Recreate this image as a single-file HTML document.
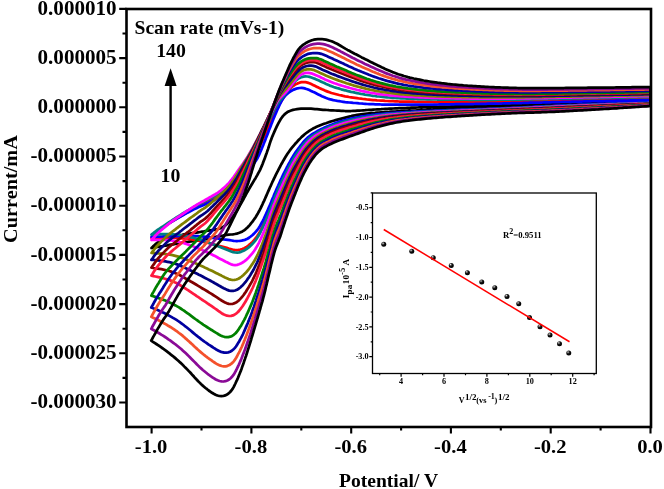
<!DOCTYPE html>
<html><head><meta charset="utf-8"><title>CV scan rate</title>
<style>
html,body{margin:0;padding:0;background:#fff;}
svg{display:block;filter:blur(0.4px);}
.t{font-family:"Liberation Serif",serif;font-weight:bold;font-size:20.6px;fill:#000;}
.s{font-family:"Liberation Serif",serif;font-weight:bold;font-size:8.2px;fill:#000;}
.c path{fill:none;stroke-width:2.75;stroke-linejoin:round;stroke-linecap:round;}
</style></head><body>
<svg width="664" height="489" viewBox="0 0 664 489">
<defs><radialGradient id="ball" cx="0.36" cy="0.32" r="0.6"><stop offset="0" stop-color="#ffffff"/><stop offset="0.22" stop-color="#777"/><stop offset="0.55" stop-color="#111"/><stop offset="1" stop-color="#000"/></radialGradient>
<clipPath id="cp"><rect x="126.5" y="9" width="524.5" height="418"/></clipPath></defs>
<rect width="664" height="489" fill="#fff"/>
<g class="c" clip-path="url(#cp)">
<path d="M650.5 101.8L648.5 101.9L646.5 101.9L644.5 102.0L642.5 102.0L640.4 102.1L638.4 102.2L636.4 102.2L634.4 102.3L632.4 102.3L630.4 102.4L628.4 102.5L626.4 102.5L624.4 102.6L622.3 102.6L620.3 102.7L618.3 102.8L616.3 102.8L614.3 102.9L612.3 102.9L610.3 103.0L608.3 103.1L606.3 103.1L604.2 103.2L602.2 103.3L600.2 103.3L598.2 103.4L596.2 103.5L594.2 103.5L592.2 103.6L590.2 103.7L588.2 103.7L586.1 103.8L584.1 103.9L582.1 104.0L580.1 104.0L578.1 104.1L576.1 104.2L574.1 104.3L572.1 104.3L570.1 104.4L568.0 104.5L566.0 104.6L564.0 104.6L562.0 104.7L560.0 104.8L558.0 104.9L556.0 105.0L554.0 105.1L552.0 105.1L550.0 105.2L547.9 105.3L545.9 105.4L543.9 105.5L541.9 105.6L539.9 105.7L537.9 105.8L535.9 105.9L533.9 106.0L531.9 106.1L529.9 106.2L527.8 106.3L525.8 106.4L523.8 106.5L521.8 106.6L519.8 106.7L517.8 106.8L515.8 106.9L513.8 107.0L511.8 107.1L509.8 107.1L507.7 107.2L505.7 107.3L503.7 107.4L501.7 107.5L499.7 107.5L497.7 107.6L495.7 107.7L493.7 107.7L491.7 107.8L489.6 107.9L487.6 107.9L485.6 108.0L483.6 108.1L481.6 108.1L479.6 108.2L477.6 108.2L475.6 108.3L473.6 108.3L471.5 108.4L469.5 108.5L467.5 108.5L465.5 108.6L463.5 108.6L461.5 108.7L459.5 108.7L457.5 108.8L455.5 108.9L453.4 108.9L451.4 109.0L449.4 109.1L447.4 109.1L445.4 109.2L443.4 109.3L441.4 109.3L439.4 109.4L437.4 109.5L435.3 109.6L433.3 109.7L431.3 109.8L429.3 109.8L427.3 109.9L425.3 110.0L423.3 110.1L421.3 110.2L419.3 110.3L417.2 110.4L415.2 110.5L413.2 110.5L411.2 110.6L409.2 110.7L407.2 110.8L405.2 110.9L403.2 111.0L401.2 111.1L399.2 111.3L397.2 111.4L395.1 111.5L393.1 111.6L391.1 111.7L389.1 111.9L387.1 112.0L385.1 112.1L383.1 112.3L381.1 112.4L379.1 112.6L377.1 112.7L375.1 112.9L373.1 113.0L371.1 113.2L369.1 113.4L367.1 113.6L365.0 113.8L363.1 114.0L361.1 114.3L359.1 114.6L357.1 114.9L355.1 115.3L353.1 115.7L351.2 116.2L349.2 116.6L347.3 117.1L345.3 117.6L343.4 118.1L341.4 118.6L339.5 119.1L337.5 119.6L335.6 120.1L333.6 120.7L331.7 121.3L329.8 121.9L327.9 122.5L326.0 123.2L324.1 123.8L322.2 124.5L320.3 125.2L318.5 126.0L316.6 126.8L314.8 127.7L313.0 128.6L311.3 129.6L309.6 130.7L307.9 131.8L306.3 133.0L304.7 134.3L303.2 135.6L301.7 136.9L300.3 138.4L298.9 139.8L297.5 141.3L296.2 142.8L294.8 144.3L293.5 145.8L292.2 147.4L291.0 148.9L289.8 150.5L288.6 152.2L287.5 153.8L286.4 155.5L285.3 157.3L284.3 159.0L283.3 160.7L282.3 162.5L281.3 164.2L280.4 166.0L279.4 167.8L278.5 169.6L277.6 171.4L276.7 173.1L275.8 174.9L274.9 176.8L274.0 178.6L273.2 180.4L272.3 182.2L271.5 184.0L270.7 185.9L269.8 187.7L269.0 189.6L268.2 191.4L267.4 193.2L266.6 195.1L265.8 196.9L265.0 198.8L264.2 200.6L263.3 202.4L262.5 204.3L261.6 206.1L260.8 207.9L259.9 209.7L258.9 211.5L258.0 213.2L256.9 215.0L255.9 216.7L254.8 218.4L253.6 220.0L252.5 221.7L251.2 223.2L249.9 224.8L248.6 226.3L247.2 227.7L245.7 229.1L244.1 230.3L242.4 231.4L240.6 232.3L238.7 233.0L236.8 233.6L234.8 234.0L232.8 234.3L230.8 234.5L228.8 234.7L226.8 234.9L224.8 235.2L222.9 235.6L220.9 235.9L218.9 236.3L216.9 236.7L215.0 237.2L213.0 237.6L211.0 238.0L209.0 238.4L207.1 238.7L205.1 239.1L203.1 239.5L201.1 239.8L199.1 240.1L197.2 240.5L195.2 240.8L193.2 241.1L191.2 241.4L189.2 241.7L187.2 242.0L185.2 242.3L183.2 242.7L181.3 243.0L179.3 243.3L177.3 243.6L175.3 244.0L173.3 244.3L171.3 244.6L169.4 244.9L167.4 245.3L165.4 245.6L163.4 246.0L161.4 246.3L159.4 246.6L157.4 247.0L155.5 247.3L153.5 247.7L151.5 248.0L151.5 248.0L152.9 246.6L154.4 245.2L155.9 243.9L157.5 242.7L159.2 241.6L160.9 240.6L162.8 239.7L164.6 239.0L166.5 238.3L168.4 237.7L170.4 237.1L172.3 236.6L174.3 236.2L176.2 235.8L178.2 235.4L180.2 235.1L182.2 234.8L184.2 234.4L186.2 234.1L188.1 233.8L190.1 233.5L192.1 233.2L194.1 232.9L196.1 232.6L198.1 232.3L200.1 232.0L202.0 231.7L204.0 231.4L206.0 231.0L208.0 230.7L210.0 230.4L212.0 230.1L214.0 229.8L215.9 229.4L217.9 229.0L219.8 228.4L221.7 227.7L223.5 226.7L225.1 225.6L226.7 224.3L228.1 222.8L229.4 221.3L230.6 219.7L231.8 218.1L233.0 216.5L234.1 214.9L235.2 213.2L236.3 211.5L237.4 209.7L238.4 208.0L239.4 206.3L240.4 204.6L241.4 202.8L242.4 201.1L243.4 199.3L244.3 197.5L245.3 195.8L246.2 194.0L247.2 192.2L248.2 190.5L249.2 188.7L250.2 187.0L251.2 185.3L252.3 183.5L253.3 181.8L254.3 180.1L255.4 178.4L256.4 176.6L257.4 174.9L258.3 173.1L259.3 171.3L260.2 169.6L261.0 167.7L261.8 165.9L262.6 164.0L263.3 162.1L264.0 160.3L264.7 158.4L265.4 156.5L266.1 154.6L266.8 152.7L267.4 150.8L268.1 148.9L268.7 147.0L269.3 145.1L269.9 143.2L270.5 141.3L271.2 139.4L271.9 137.5L272.7 135.6L273.5 133.8L274.3 131.9L275.1 130.1L275.9 128.3L276.8 126.4L277.7 124.6L278.6 122.9L279.6 121.1L280.6 119.3L281.7 117.7L282.9 116.1L284.3 114.6L285.8 113.3L287.4 112.1L289.2 111.2L291.1 110.5L293.0 109.9L295.0 109.5L297.0 109.2L299.0 108.9L301.0 108.7L303.0 108.6L305.0 108.5L307.0 108.5L309.0 108.6L311.0 108.7L313.0 108.9L315.0 109.1L317.0 109.2L319.0 109.4L321.0 109.6L323.0 109.8L325.0 109.9L327.0 110.0L329.0 110.2L331.0 110.3L333.1 110.4L335.1 110.5L337.1 110.6L339.1 110.7L341.1 110.8L343.1 110.9L345.1 111.0L347.1 111.0L349.1 111.0L351.1 111.0L353.1 110.9L355.2 110.9L357.2 110.7L359.2 110.6L361.2 110.5L363.2 110.3L365.2 110.2L367.2 110.0L369.2 109.9L371.2 109.8L373.2 109.6L375.2 109.5L377.2 109.4L379.2 109.3L381.2 109.2L383.2 109.0L385.2 108.9L387.3 108.8L389.3 108.7L391.3 108.6L393.3 108.5L395.3 108.4L397.3 108.3L399.3 108.2L401.3 108.1L403.3 108.1L405.3 108.0L407.3 107.9L409.3 107.8L411.4 107.7L413.4 107.6L415.4 107.6L417.4 107.5L419.4 107.4L421.4 107.3L423.4 107.2L425.4 107.2L427.4 107.1L429.4 107.0L431.4 107.0L433.5 106.9L435.5 106.8L437.5 106.8L439.5 106.7L441.5 106.7L443.5 106.6L445.5 106.6L447.5 106.5L449.5 106.5L451.5 106.4L453.6 106.4L455.6 106.3L457.6 106.3L459.6 106.2L461.6 106.2L463.6 106.1L465.6 106.1L467.6 106.0L469.6 106.0L471.6 106.0L473.6 105.9L475.7 105.9L477.7 105.8L479.7 105.8L481.7 105.8L483.7 105.7L485.7 105.7L487.7 105.6L489.7 105.6L491.7 105.5L493.7 105.5L495.8 105.4L497.8 105.4L499.8 105.4L501.8 105.3L503.8 105.3L505.8 105.2L507.8 105.2L509.8 105.1L511.8 105.0L513.8 105.0L515.9 104.9L517.9 104.9L519.9 104.8L521.9 104.8L523.9 104.7L525.9 104.6L527.9 104.6L529.9 104.5L531.9 104.5L533.9 104.4L536.0 104.3L538.0 104.3L540.0 104.2L542.0 104.2L544.0 104.1L546.0 104.0L548.0 104.0L550.0 103.9L552.0 103.8L554.0 103.8L556.0 103.7L558.1 103.7L560.1 103.6L562.1 103.5L564.1 103.5L566.1 103.4L568.1 103.4L570.1 103.3L572.1 103.2L574.1 103.2L576.1 103.1L578.2 103.1L580.2 103.0L582.2 102.9L584.2 102.9L586.2 102.8L588.2 102.8L590.2 102.7L592.2 102.7L594.2 102.6L596.2 102.5L598.2 102.5L600.3 102.4L602.3 102.4L604.3 102.3L606.3 102.3L608.3 102.2L610.3 102.1L612.3 102.1L614.3 102.0L616.3 102.0L618.3 101.9L620.4 101.9L622.4 101.8L624.4 101.7L626.4 101.7L628.4 101.6L630.4 101.6L632.4 101.5L634.4 101.5L636.4 101.4L638.4 101.3L640.5 101.3L642.5 101.2L644.5 101.2L646.5 101.1L648.5 101.1L650.5 101.0Z" stroke="#000000"/>
<path d="M650.5 102.8L648.5 102.9L646.5 102.9L644.5 103.0L642.5 103.0L640.5 103.1L638.5 103.2L636.5 103.2L634.4 103.3L632.4 103.4L630.4 103.4L628.4 103.5L626.4 103.5L624.4 103.6L622.4 103.7L620.4 103.7L618.4 103.8L616.4 103.9L614.4 103.9L612.4 104.0L610.4 104.1L608.4 104.1L606.3 104.2L604.3 104.3L602.3 104.3L600.3 104.4L598.3 104.5L596.3 104.6L594.3 104.6L592.3 104.7L590.3 104.8L588.3 104.8L586.3 104.9L584.3 105.0L582.3 105.1L580.3 105.1L578.3 105.2L576.3 105.3L574.2 105.4L572.2 105.4L570.2 105.5L568.2 105.6L566.2 105.7L564.2 105.8L562.2 105.9L560.2 105.9L558.2 106.0L556.2 106.1L554.2 106.2L552.2 106.3L550.2 106.4L548.2 106.5L546.2 106.6L544.2 106.7L542.1 106.8L540.1 106.9L538.1 107.0L536.1 107.1L534.1 107.2L532.1 107.3L530.1 107.4L528.1 107.5L526.1 107.6L524.1 107.7L522.1 107.8L520.1 107.9L518.1 108.0L516.1 108.0L514.1 108.1L512.1 108.2L510.1 108.3L508.1 108.4L506.1 108.5L504.0 108.6L502.0 108.7L500.0 108.8L498.0 108.8L496.0 108.9L494.0 109.0L492.0 109.1L490.0 109.1L488.0 109.2L486.0 109.3L484.0 109.4L482.0 109.4L480.0 109.5L478.0 109.6L476.0 109.6L473.9 109.7L471.9 109.8L469.9 109.8L467.9 109.9L465.9 110.0L463.9 110.0L461.9 110.1L459.9 110.2L457.9 110.2L455.9 110.3L453.9 110.4L451.9 110.5L449.9 110.5L447.9 110.6L445.9 110.7L443.8 110.8L441.8 110.8L439.8 110.9L437.8 111.0L435.8 111.1L433.8 111.2L431.8 111.3L429.8 111.4L427.8 111.5L425.8 111.6L423.8 111.7L421.8 111.8L419.8 111.9L417.8 112.0L415.8 112.1L413.8 112.2L411.8 112.3L409.8 112.4L407.8 112.6L405.7 112.7L403.7 112.8L401.7 112.9L399.7 113.1L397.7 113.2L395.7 113.4L393.7 113.5L391.7 113.7L389.7 113.8L387.7 114.0L385.7 114.2L383.7 114.4L381.7 114.6L379.7 114.8L377.7 115.1L375.8 115.3L373.8 115.6L371.8 115.9L369.8 116.1L367.8 116.4L365.8 116.8L363.8 117.1L361.9 117.4L359.9 117.8L357.9 118.2L355.9 118.6L354.0 119.0L352.0 119.5L350.1 119.9L348.1 120.4L346.2 120.9L344.2 121.5L342.3 122.0L340.4 122.6L338.5 123.2L336.6 123.8L334.7 124.5L332.8 125.3L331.0 126.0L329.1 126.8L327.3 127.6L325.4 128.4L323.6 129.2L321.8 130.1L320.0 131.0L318.3 132.0L316.5 133.0L314.8 134.0L313.1 135.1L311.5 136.3L309.9 137.5L308.4 138.8L306.9 140.2L305.5 141.7L304.2 143.2L302.9 144.7L301.7 146.3L300.5 147.9L299.3 149.5L298.2 151.2L297.0 152.8L295.9 154.5L294.8 156.2L293.7 157.9L292.7 159.6L291.7 161.3L290.7 163.1L289.8 164.9L288.9 166.7L287.9 168.4L287.0 170.2L286.1 172.0L285.2 173.8L284.3 175.6L283.4 177.4L282.6 179.2L281.7 181.0L280.9 182.9L280.1 184.7L279.2 186.5L278.4 188.4L277.6 190.2L276.8 192.0L276.0 193.9L275.3 195.7L274.5 197.6L273.7 199.5L273.0 201.3L272.3 203.2L271.5 205.1L270.8 206.9L270.1 208.8L269.3 210.7L268.6 212.6L267.9 214.4L267.1 216.3L266.3 218.1L265.5 220.0L264.7 221.8L263.9 223.6L263.0 225.5L262.2 227.3L261.3 229.1L260.4 230.9L259.4 232.6L258.4 234.3L257.3 236.0L256.1 237.7L254.9 239.2L253.6 240.8L252.2 242.2L250.7 243.6L249.2 244.9L247.7 246.2L246.0 247.3L244.2 248.2L242.3 249.0L240.4 249.5L238.5 249.9L236.4 250.1L234.4 249.9L232.5 249.5L230.5 249.0L228.6 248.5L226.7 247.9L224.7 247.4L222.8 246.9L220.8 246.4L218.9 245.9L217.0 245.4L215.0 244.8L213.1 244.3L211.2 243.8L209.2 243.2L207.3 242.7L205.3 242.2L203.4 241.8L201.4 241.3L199.5 240.9L197.5 240.5L195.5 240.1L193.5 239.8L191.6 239.5L189.6 239.2L187.6 238.9L185.6 238.7L183.6 238.5L181.6 238.3L179.6 238.1L177.6 238.0L175.6 237.9L173.6 237.8L171.6 237.7L169.6 237.6L167.6 237.6L165.5 237.6L163.5 237.6L161.5 237.6L159.5 237.7L157.5 237.7L155.5 237.8L153.5 237.9L151.5 238.0L151.5 238.0L152.9 236.5L154.3 235.1L155.7 233.7L157.2 232.4L158.8 231.1L160.4 229.8L162.0 228.6L163.6 227.4L165.2 226.2L166.8 225.0L168.4 223.8L170.1 222.7L171.8 221.6L173.5 220.5L175.2 219.5L176.9 218.4L178.6 217.4L180.4 216.4L182.1 215.3L183.8 214.3L185.5 213.2L187.2 212.2L189.0 211.2L190.7 210.2L192.5 209.2L194.2 208.2L196.0 207.3L197.8 206.4L199.6 205.5L201.4 204.6L203.3 203.8L205.1 202.9L206.9 202.0L208.6 201.1L210.4 200.1L212.2 199.2L214.0 198.2L215.7 197.3L217.5 196.2L219.2 195.2L220.8 194.0L222.5 192.9L224.1 191.7L225.7 190.4L227.2 189.1L228.7 187.8L230.2 186.4L231.6 185.0L232.9 183.5L234.3 182.0L235.6 180.5L236.9 178.9L238.2 177.4L239.5 175.8L240.8 174.3L242.0 172.8L243.3 171.2L244.6 169.6L245.9 168.1L247.1 166.5L248.3 164.9L249.6 163.3L250.8 161.7L251.9 160.1L253.1 158.4L254.1 156.7L255.2 155.0L256.2 153.2L257.1 151.5L258.0 149.7L258.9 147.9L259.8 146.0L260.6 144.2L261.5 142.4L262.3 140.6L263.1 138.7L264.0 136.9L264.8 135.1L265.6 133.2L266.4 131.4L267.2 129.6L268.1 127.7L268.9 125.9L269.7 124.0L270.5 122.2L271.3 120.3L272.1 118.5L272.9 116.7L273.7 114.8L274.6 113.0L275.5 111.2L276.4 109.4L277.4 107.6L278.4 105.9L279.4 104.2L280.5 102.5L281.5 100.8L282.6 99.1L283.6 97.3L284.7 95.6L285.8 94.0L287.0 92.3L288.2 90.7L289.5 89.2L291.0 87.8L292.5 86.5L294.1 85.3L295.8 84.2L297.6 83.4L299.5 82.7L301.5 82.2L303.5 82.1L305.5 82.2L307.5 82.6L309.4 83.3L311.2 84.1L313.0 84.9L314.8 85.8L316.6 86.7L318.4 87.6L320.3 88.4L322.1 89.3L323.9 90.1L325.8 90.9L327.6 91.6L329.5 92.3L331.4 93.0L333.4 93.5L335.3 94.0L337.3 94.5L339.2 95.0L341.2 95.4L343.2 95.9L345.1 96.3L347.1 96.6L349.1 97.0L351.1 97.3L353.1 97.6L355.0 97.9L357.0 98.2L359.0 98.5L361.0 98.7L363.0 99.0L365.0 99.2L367.0 99.5L369.0 99.7L371.0 99.9L373.0 100.1L375.0 100.2L377.0 100.4L379.0 100.5L381.0 100.6L383.0 100.7L385.1 100.9L387.1 101.0L389.1 101.1L391.1 101.2L393.1 101.2L395.1 101.3L397.1 101.4L399.1 101.5L401.1 101.5L403.1 101.6L405.2 101.6L407.2 101.6L409.2 101.7L411.2 101.7L413.2 101.7L415.2 101.8L417.2 101.8L419.2 101.8L421.2 101.9L423.3 101.9L425.3 101.9L427.3 101.9L429.3 101.9L431.3 101.9L433.3 102.0L435.3 102.0L437.3 102.0L439.3 102.0L441.4 102.0L443.4 102.0L445.4 101.9L447.4 101.9L449.4 101.9L451.4 101.9L453.4 101.9L455.4 101.9L457.4 101.9L459.5 101.9L461.5 101.9L463.5 101.9L465.5 101.9L467.5 101.9L469.5 101.9L471.5 101.9L473.5 101.9L475.5 101.8L477.6 101.8L479.6 101.8L481.6 101.8L483.6 101.8L485.6 101.8L487.6 101.7L489.6 101.7L491.6 101.7L493.6 101.7L495.7 101.7L497.7 101.6L499.7 101.6L501.7 101.6L503.7 101.5L505.7 101.5L507.7 101.5L509.7 101.4L511.7 101.4L513.8 101.3L515.8 101.3L517.8 101.3L519.8 101.2L521.8 101.2L523.8 101.1L525.8 101.1L527.8 101.1L529.8 101.0L531.9 101.0L533.9 100.9L535.9 100.9L537.9 100.8L539.9 100.8L541.9 100.8L543.9 100.7L545.9 100.7L547.9 100.6L550.0 100.6L552.0 100.5L554.0 100.5L556.0 100.4L558.0 100.4L560.0 100.3L562.0 100.3L564.0 100.2L566.0 100.2L568.1 100.2L570.1 100.1L572.1 100.1L574.1 100.0L576.1 100.0L578.1 99.9L580.1 99.9L582.1 99.9L584.1 99.8L586.1 99.8L588.2 99.7L590.2 99.7L592.2 99.6L594.2 99.6L596.2 99.6L598.2 99.5L600.2 99.5L602.2 99.4L604.2 99.4L606.3 99.4L608.3 99.3L610.3 99.3L612.3 99.2L614.3 99.2L616.3 99.2L618.3 99.1L620.3 99.1L622.3 99.0L624.4 99.0L626.4 98.9L628.4 98.9L630.4 98.9L632.4 98.8L634.4 98.8L636.4 98.7L638.4 98.7L640.4 98.7L642.5 98.6L644.5 98.6L646.5 98.5L648.5 98.5L650.5 98.5Z" stroke="#ff0000"/>
<path d="M650.5 102.6L648.5 102.7L646.5 102.7L644.5 102.8L642.5 102.8L640.4 102.9L638.4 102.9L636.4 103.0L634.4 103.1L632.4 103.1L630.4 103.2L628.4 103.2L626.4 103.3L624.3 103.4L622.3 103.4L620.3 103.5L618.3 103.5L616.3 103.6L614.3 103.7L612.3 103.7L610.3 103.8L608.3 103.9L606.2 103.9L604.2 104.0L602.2 104.1L600.2 104.1L598.2 104.2L596.2 104.3L594.2 104.3L592.2 104.4L590.2 104.5L588.1 104.5L586.1 104.6L584.1 104.7L582.1 104.7L580.1 104.8L578.1 104.9L576.1 105.0L574.1 105.0L572.1 105.1L570.0 105.2L568.0 105.3L566.0 105.4L564.0 105.4L562.0 105.5L560.0 105.6L558.0 105.7L556.0 105.8L554.0 105.9L551.9 106.0L549.9 106.0L547.9 106.1L545.9 106.2L543.9 106.3L541.9 106.4L539.9 106.5L537.9 106.6L535.9 106.7L533.9 106.8L531.8 107.0L529.8 107.1L527.8 107.2L525.8 107.3L523.8 107.4L521.8 107.5L519.8 107.6L517.8 107.7L515.8 107.8L513.8 107.9L511.7 107.9L509.7 108.0L507.7 108.1L505.7 108.2L503.7 108.3L501.7 108.4L499.7 108.5L497.7 108.5L495.7 108.6L493.6 108.7L491.6 108.8L489.6 108.8L487.6 108.9L485.6 109.0L483.6 109.0L481.6 109.1L479.6 109.2L477.6 109.2L475.5 109.3L473.5 109.4L471.5 109.4L469.5 109.5L467.5 109.5L465.5 109.6L463.5 109.7L461.5 109.7L459.5 109.8L457.4 109.9L455.4 109.9L453.4 110.0L451.4 110.1L449.4 110.1L447.4 110.2L445.4 110.3L443.4 110.4L441.4 110.4L439.3 110.5L437.3 110.6L435.3 110.7L433.3 110.8L431.3 110.9L429.3 111.0L427.3 111.0L425.3 111.1L423.3 111.2L421.2 111.3L419.2 111.4L417.2 111.5L415.2 111.6L413.2 111.7L411.2 111.8L409.2 112.0L407.2 112.1L405.2 112.2L403.2 112.3L401.2 112.4L399.1 112.6L397.1 112.7L395.1 112.8L393.1 113.0L391.1 113.1L389.1 113.3L387.1 113.4L385.1 113.6L383.1 113.8L381.1 114.0L379.1 114.2L377.1 114.4L375.1 114.7L373.1 114.9L371.1 115.2L369.1 115.4L367.1 115.7L365.1 116.0L363.1 116.3L361.1 116.6L359.2 117.0L357.2 117.4L355.2 117.8L353.2 118.2L351.3 118.6L349.3 119.1L347.4 119.6L345.4 120.1L343.5 120.6L341.5 121.2L339.6 121.7L337.7 122.4L335.8 123.0L333.9 123.7L332.0 124.5L330.2 125.2L328.3 126.0L326.5 126.8L324.6 127.6L322.8 128.4L321.0 129.3L319.2 130.2L317.4 131.1L315.7 132.1L313.9 133.1L312.2 134.2L310.6 135.4L309.0 136.6L307.4 137.9L306.0 139.3L304.6 140.7L303.2 142.2L302.0 143.8L300.7 145.4L299.5 147.0L298.3 148.6L297.1 150.2L295.9 151.9L294.8 153.5L293.7 155.2L292.7 156.9L291.6 158.7L290.7 160.4L289.7 162.2L288.7 163.9L287.8 165.7L286.8 167.5L285.9 169.3L285.0 171.1L284.1 172.9L283.2 174.7L282.3 176.5L281.5 178.3L280.6 180.1L279.8 182.0L279.0 183.8L278.2 185.6L277.3 187.5L276.5 189.3L275.7 191.2L274.9 193.0L274.1 194.9L273.4 196.7L272.6 198.6L271.8 200.4L271.1 202.3L270.3 204.2L269.5 206.0L268.7 207.9L267.9 209.7L267.1 211.6L266.3 213.4L265.5 215.2L264.6 217.1L263.8 218.9L262.9 220.7L261.9 222.5L261.0 224.2L260.0 226.0L258.9 227.7L257.8 229.3L256.5 230.9L255.2 232.4L253.8 233.9L252.3 235.2L250.7 236.5L249.1 237.7L247.4 238.7L245.6 239.6L243.7 240.2L241.7 240.7L239.7 240.9L237.7 241.0L235.7 241.0L233.7 240.8L231.7 240.5L229.7 240.2L227.7 239.9L225.7 239.6L223.7 239.4L221.7 239.1L219.7 238.8L217.7 238.5L215.8 238.3L213.8 238.0L211.8 237.7L209.8 237.4L207.8 237.2L205.8 236.9L203.8 236.7L201.8 236.5L199.8 236.3L197.8 236.2L195.8 236.1L193.7 236.0L191.7 236.0L189.7 235.9L187.7 235.9L185.7 235.9L183.7 235.9L181.7 236.0L179.7 236.0L177.6 236.0L175.6 236.1L173.6 236.1L171.6 236.2L169.6 236.2L167.6 236.3L165.6 236.4L163.6 236.4L161.6 236.5L159.5 236.6L157.5 236.7L155.5 236.8L153.5 236.9L151.5 237.0L151.5 237.0L152.9 235.6L154.4 234.2L155.9 232.8L157.4 231.5L159.0 230.3L160.6 229.1L162.2 227.9L163.9 226.8L165.5 225.6L167.2 224.5L168.9 223.4L170.6 222.4L172.3 221.3L174.0 220.3L175.8 219.3L177.5 218.4L179.3 217.4L181.0 216.4L182.8 215.4L184.5 214.4L186.3 213.4L188.0 212.4L189.8 211.5L191.6 210.6L193.4 209.6L195.2 208.8L197.0 207.9L198.8 207.1L200.7 206.3L202.5 205.5L204.4 204.7L206.2 203.8L208.0 203.0L209.8 202.1L211.6 201.2L213.4 200.3L215.2 199.4L217.0 198.4L218.7 197.4L220.4 196.4L222.1 195.3L223.8 194.1L225.4 193.0L227.0 191.8L228.6 190.5L230.1 189.2L231.6 187.8L233.0 186.4L234.4 185.0L235.8 183.6L237.2 182.1L238.6 180.6L240.0 179.2L241.4 177.7L242.7 176.3L244.1 174.8L245.5 173.3L246.9 171.9L248.2 170.4L249.5 168.9L250.8 167.3L252.1 165.8L253.4 164.2L254.6 162.6L255.7 160.9L256.8 159.2L257.8 157.5L258.7 155.7L259.5 153.9L260.3 152.0L261.1 150.2L261.9 148.3L262.6 146.5L263.4 144.6L264.1 142.7L264.9 140.9L265.6 139.0L266.3 137.1L267.1 135.3L267.8 133.4L268.5 131.5L269.2 129.6L270.0 127.8L270.7 125.9L271.4 124.0L272.2 122.1L272.9 120.3L273.6 118.4L274.4 116.6L275.2 114.7L276.0 112.9L276.8 111.0L277.6 109.2L278.5 107.4L279.3 105.5L280.2 103.7L281.1 101.9L282.0 100.2L283.1 98.5L284.3 96.9L285.6 95.3L287.1 93.9L288.6 92.6L290.2 91.5L292.0 90.5L293.8 89.6L295.7 88.9L297.6 88.3L299.6 88.0L301.6 87.9L303.6 88.2L305.5 88.7L307.4 89.3L309.3 90.1L311.1 90.9L312.9 91.8L314.7 92.6L316.5 93.5L318.3 94.4L320.1 95.3L321.9 96.2L323.8 97.0L325.6 97.8L327.5 98.5L329.4 99.1L331.4 99.6L333.3 100.1L335.3 100.5L337.3 100.9L339.2 101.2L341.2 101.5L343.2 101.8L345.2 102.1L347.2 102.3L349.2 102.5L351.2 102.7L353.2 102.9L355.2 103.0L357.2 103.2L359.2 103.4L361.2 103.5L363.2 103.7L365.2 103.8L367.2 104.0L369.2 104.1L371.2 104.2L373.2 104.2L375.3 104.3L377.3 104.4L379.3 104.4L381.3 104.5L383.3 104.5L385.3 104.5L387.3 104.6L389.3 104.6L391.3 104.6L393.3 104.7L395.3 104.7L397.4 104.7L399.4 104.7L401.4 104.7L403.4 104.7L405.4 104.7L407.4 104.7L409.4 104.7L411.4 104.7L413.4 104.7L415.4 104.7L417.5 104.6L419.5 104.6L421.5 104.6L423.5 104.6L425.5 104.6L427.5 104.6L429.5 104.6L431.5 104.5L433.5 104.5L435.5 104.5L437.5 104.5L439.6 104.4L441.6 104.4L443.6 104.4L445.6 104.4L447.6 104.3L449.6 104.3L451.6 104.3L453.6 104.3L455.6 104.2L457.6 104.2L459.6 104.2L461.7 104.1L463.7 104.1L465.7 104.1L467.7 104.1L469.7 104.0L471.7 104.0L473.7 104.0L475.7 103.9L477.7 103.9L479.7 103.9L481.7 103.8L483.8 103.8L485.8 103.8L487.8 103.7L489.8 103.7L491.8 103.7L493.8 103.6L495.8 103.6L497.8 103.5L499.8 103.5L501.8 103.5L503.8 103.4L505.9 103.4L507.9 103.3L509.9 103.3L511.9 103.2L513.9 103.2L515.9 103.1L517.9 103.1L519.9 103.0L521.9 103.0L523.9 102.9L525.9 102.8L528.0 102.8L530.0 102.7L532.0 102.7L534.0 102.6L536.0 102.6L538.0 102.5L540.0 102.5L542.0 102.5L544.0 102.4L546.0 102.4L548.0 102.3L550.1 102.3L552.1 102.2L554.1 102.1L556.1 102.1L558.1 102.0L560.1 102.0L562.1 101.9L564.1 101.9L566.1 101.8L568.1 101.8L570.1 101.8L572.1 101.7L574.2 101.7L576.2 101.6L578.2 101.6L580.2 101.5L582.2 101.5L584.2 101.4L586.2 101.4L588.2 101.3L590.2 101.3L592.2 101.2L594.2 101.2L596.3 101.2L598.3 101.1L600.3 101.1L602.3 101.0L604.3 101.0L606.3 100.9L608.3 100.9L610.3 100.9L612.3 100.8L614.3 100.8L616.3 100.7L618.4 100.7L620.4 100.6L622.4 100.6L624.4 100.6L626.4 100.5L628.4 100.5L630.4 100.4L632.4 100.4L634.4 100.3L636.4 100.3L638.4 100.3L640.5 100.2L642.5 100.2L644.5 100.1L646.5 100.1L648.5 100.0L650.5 100.0Z" stroke="#0000ff"/>
<path d="M650.5 102.9L648.5 102.9L646.5 103.0L644.5 103.0L642.5 103.1L640.4 103.2L638.4 103.2L636.4 103.3L634.4 103.4L632.4 103.4L630.4 103.5L628.4 103.6L626.4 103.6L624.4 103.7L622.3 103.8L620.3 103.8L618.3 103.9L616.3 104.0L614.3 104.0L612.3 104.1L610.3 104.2L608.3 104.2L606.3 104.3L604.3 104.4L602.2 104.4L600.2 104.5L598.2 104.6L596.2 104.6L594.2 104.7L592.2 104.8L590.2 104.9L588.2 104.9L586.2 105.0L584.1 105.1L582.1 105.2L580.1 105.2L578.1 105.3L576.1 105.4L574.1 105.5L572.1 105.5L570.1 105.6L568.1 105.7L566.1 105.8L564.0 105.9L562.0 106.0L560.0 106.0L558.0 106.1L556.0 106.2L554.0 106.3L552.0 106.4L550.0 106.5L548.0 106.6L546.0 106.7L543.9 106.8L541.9 106.9L539.9 107.0L537.9 107.1L535.9 107.2L533.9 107.3L531.9 107.4L529.9 107.5L527.9 107.6L525.9 107.7L523.8 107.8L521.8 107.9L519.8 108.0L517.8 108.1L515.8 108.1L513.8 108.2L511.8 108.3L509.8 108.4L507.8 108.5L505.8 108.6L503.7 108.7L501.7 108.8L499.7 108.9L497.7 108.9L495.7 109.0L493.7 109.1L491.7 109.2L489.7 109.2L487.7 109.3L485.7 109.4L483.6 109.5L481.6 109.5L479.6 109.6L477.6 109.7L475.6 109.7L473.6 109.8L471.6 109.9L469.6 109.9L467.6 110.0L465.5 110.1L463.5 110.2L461.5 110.2L459.5 110.3L457.5 110.4L455.5 110.4L453.5 110.5L451.5 110.6L449.5 110.7L447.5 110.7L445.4 110.8L443.4 110.9L441.4 111.0L439.4 111.0L437.4 111.1L435.4 111.2L433.4 111.3L431.4 111.4L429.4 111.5L427.4 111.6L425.3 111.7L423.3 111.8L421.3 111.9L419.3 112.0L417.3 112.1L415.3 112.2L413.3 112.4L411.3 112.5L409.3 112.6L407.3 112.7L405.3 112.9L403.2 113.0L401.2 113.1L399.2 113.3L397.2 113.4L395.2 113.6L393.2 113.7L391.2 113.9L389.2 114.1L387.2 114.2L385.2 114.4L383.2 114.6L381.2 114.9L379.2 115.1L377.2 115.3L375.2 115.6L373.2 115.9L371.2 116.2L369.2 116.5L367.2 116.8L365.3 117.1L363.3 117.4L361.3 117.8L359.3 118.2L357.3 118.6L355.4 119.0L353.4 119.4L351.5 119.9L349.5 120.4L347.6 120.9L345.6 121.4L343.7 121.9L341.7 122.5L339.8 123.1L337.9 123.7L336.0 124.3L334.1 125.0L332.2 125.8L330.4 126.5L328.5 127.3L326.7 128.2L324.9 129.0L323.0 129.8L321.2 130.7L319.5 131.7L317.7 132.7L316.0 133.7L314.3 134.8L312.6 135.9L311.0 137.1L309.4 138.4L307.9 139.7L306.5 141.1L305.1 142.6L303.8 144.1L302.6 145.7L301.4 147.3L300.2 148.9L299.0 150.6L297.9 152.2L296.7 153.9L295.6 155.6L294.5 157.3L293.5 159.0L292.5 160.7L291.5 162.5L290.5 164.2L289.6 166.0L288.7 167.8L287.8 169.6L286.9 171.4L285.9 173.2L285.1 175.0L284.2 176.8L283.3 178.6L282.4 180.4L281.6 182.3L280.8 184.1L279.9 185.9L279.1 187.8L278.3 189.6L277.5 191.4L276.7 193.3L275.9 195.1L275.1 197.0L274.4 198.9L273.6 200.7L272.9 202.6L272.2 204.5L271.5 206.4L270.7 208.2L270.0 210.1L269.3 212.0L268.6 213.9L267.8 215.7L267.1 217.6L266.3 219.5L265.5 221.3L264.7 223.2L263.9 225.0L263.1 226.8L262.2 228.7L261.3 230.5L260.4 232.3L259.5 234.0L258.5 235.8L257.4 237.5L256.3 239.2L255.1 240.8L253.8 242.3L252.5 243.8L251.1 245.3L249.6 246.6L248.1 247.9L246.4 249.1L244.7 250.2L242.9 251.0L241.0 251.8L239.1 252.3L237.1 252.6L235.1 252.5L233.1 252.1L231.2 251.5L229.3 250.7L227.5 250.0L225.6 249.2L223.7 248.5L221.9 247.7L220.0 247.0L218.1 246.3L216.2 245.5L214.4 244.8L212.5 244.1L210.6 243.4L208.7 242.6L206.9 241.9L205.0 241.3L203.1 240.6L201.2 240.0L199.2 239.4L197.3 238.8L195.4 238.3L193.4 237.7L191.5 237.3L189.5 236.8L187.5 236.4L185.6 236.0L183.6 235.6L181.6 235.3L179.6 235.0L177.6 234.7L175.6 234.5L173.6 234.3L171.6 234.2L169.6 234.1L167.6 234.1L165.6 234.1L163.6 234.1L161.6 234.1L159.5 234.2L157.5 234.2L155.5 234.3L153.5 234.5L151.5 234.6L151.5 234.6L153.1 233.4L154.7 232.1L156.3 230.9L157.9 229.7L159.6 228.6L161.3 227.5L163.0 226.4L164.6 225.3L166.3 224.1L168.0 223.0L169.6 221.9L171.3 220.8L173.0 219.7L174.7 218.6L176.4 217.5L178.1 216.5L179.8 215.4L181.5 214.3L183.2 213.3L185.0 212.2L186.7 211.2L188.4 210.1L190.1 209.1L191.9 208.1L193.6 207.1L195.4 206.1L197.1 205.1L198.9 204.2L200.7 203.3L202.5 202.3L204.3 201.4L206.1 200.5L207.8 199.6L209.6 198.6L211.4 197.7L213.2 196.7L214.9 195.7L216.7 194.7L218.3 193.6L220.0 192.5L221.6 191.3L223.2 190.0L224.8 188.8L226.3 187.4L227.8 186.1L229.2 184.6L230.5 183.1L231.8 181.6L233.1 180.0L234.3 178.4L235.5 176.8L236.8 175.2L238.0 173.6L239.2 172.0L240.3 170.4L241.5 168.7L242.7 167.1L243.9 165.5L245.1 163.9L246.3 162.2L247.4 160.6L248.6 158.9L249.7 157.2L250.7 155.5L251.8 153.8L252.8 152.1L253.8 150.3L254.8 148.6L255.8 146.8L256.7 145.0L257.6 143.2L258.5 141.4L259.4 139.6L260.3 137.8L261.2 136.0L262.1 134.2L263.0 132.4L263.9 130.6L264.8 128.8L265.7 127.0L266.6 125.2L267.5 123.4L268.4 121.6L269.3 119.8L270.2 118.0L271.0 116.2L271.9 114.4L272.8 112.6L273.7 110.8L274.6 109.0L275.6 107.2L276.6 105.4L277.6 103.8L278.8 102.1L280.0 100.5L281.3 98.9L282.6 97.4L283.8 95.8L285.1 94.3L286.3 92.7L287.5 91.1L288.7 89.4L289.9 87.8L291.2 86.2L292.4 84.6L293.6 83.0L294.9 81.5L296.4 80.1L298.0 78.9L299.7 77.9L301.6 77.1L303.5 76.6L305.5 76.4L307.5 76.5L309.5 76.9L311.4 77.5L313.3 78.2L315.2 78.9L317.0 79.7L318.9 80.5L320.7 81.4L322.5 82.3L324.3 83.1L326.1 84.0L328.0 84.8L329.8 85.6L331.7 86.3L333.6 87.0L335.5 87.6L337.5 88.2L339.4 88.7L341.3 89.3L343.3 89.8L345.2 90.3L347.2 90.9L349.1 91.3L351.1 91.8L353.0 92.2L355.0 92.7L357.0 93.1L358.9 93.5L360.9 93.9L362.9 94.2L364.9 94.6L366.9 94.9L368.9 95.2L370.8 95.5L372.8 95.8L374.8 96.0L376.8 96.3L378.8 96.5L380.8 96.7L382.8 96.9L384.8 97.1L386.9 97.3L388.9 97.5L390.9 97.6L392.9 97.8L394.9 97.9L396.9 98.1L398.9 98.2L400.9 98.3L402.9 98.4L404.9 98.5L406.9 98.6L409.0 98.7L411.0 98.7L413.0 98.8L415.0 98.9L417.0 99.0L419.0 99.0L421.0 99.1L423.0 99.2L425.0 99.2L427.1 99.3L429.1 99.3L431.1 99.4L433.1 99.4L435.1 99.4L437.1 99.5L439.1 99.5L441.2 99.5L443.2 99.5L445.2 99.6L447.2 99.6L449.2 99.6L451.2 99.6L453.2 99.6L455.2 99.7L457.3 99.7L459.3 99.7L461.3 99.7L463.3 99.7L465.3 99.7L467.3 99.7L469.3 99.8L471.3 99.8L473.4 99.8L475.4 99.8L477.4 99.8L479.4 99.8L481.4 99.8L483.4 99.8L485.4 99.8L487.5 99.8L489.5 99.8L491.5 99.8L493.5 99.8L495.5 99.8L497.5 99.7L499.5 99.7L501.5 99.7L503.6 99.7L505.6 99.7L507.6 99.6L509.6 99.6L511.6 99.6L513.6 99.6L515.6 99.5L517.7 99.5L519.7 99.5L521.7 99.5L523.7 99.4L525.7 99.4L527.7 99.4L529.7 99.3L531.7 99.3L533.8 99.2L535.8 99.2L537.8 99.2L539.8 99.1L541.8 99.1L543.8 99.1L545.8 99.0L547.8 99.0L549.9 98.9L551.9 98.9L553.9 98.8L555.9 98.8L557.9 98.8L559.9 98.7L561.9 98.7L563.9 98.6L566.0 98.6L568.0 98.5L570.0 98.5L572.0 98.5L574.0 98.4L576.0 98.4L578.0 98.3L580.1 98.3L582.1 98.3L584.1 98.2L586.1 98.2L588.1 98.1L590.1 98.1L592.1 98.1L594.1 98.0L596.2 98.0L598.2 97.9L600.2 97.9L602.2 97.9L604.2 97.8L606.2 97.8L608.2 97.8L610.2 97.7L612.3 97.7L614.3 97.6L616.3 97.6L618.3 97.6L620.3 97.5L622.3 97.5L624.3 97.5L626.3 97.4L628.4 97.4L630.4 97.3L632.4 97.3L634.4 97.3L636.4 97.2L638.4 97.2L640.4 97.1L642.4 97.1L644.5 97.1L646.5 97.0L648.5 97.0L650.5 96.9Z" stroke="#008080"/>
<path d="M650.5 103.1L648.5 103.2L646.5 103.3L644.5 103.3L642.5 103.4L640.4 103.5L638.4 103.5L636.4 103.6L634.4 103.7L632.4 103.8L630.4 103.8L628.4 103.9L626.4 104.0L624.3 104.0L622.3 104.1L620.3 104.2L618.3 104.2L616.3 104.3L614.3 104.4L612.3 104.5L610.3 104.5L608.3 104.6L606.2 104.7L604.2 104.8L602.2 104.8L600.2 104.9L598.2 105.0L596.2 105.1L594.2 105.1L592.2 105.2L590.2 105.3L588.1 105.4L586.1 105.4L584.1 105.5L582.1 105.6L580.1 105.7L578.1 105.8L576.1 105.8L574.1 105.9L572.0 106.0L570.0 106.1L568.0 106.2L566.0 106.3L564.0 106.3L562.0 106.4L560.0 106.5L558.0 106.6L556.0 106.7L553.9 106.8L551.9 106.9L549.9 107.0L547.9 107.1L545.9 107.2L543.9 107.3L541.9 107.4L539.9 107.4L537.9 107.5L535.9 107.6L533.8 107.7L531.8 107.8L529.8 107.9L527.8 108.0L525.8 108.1L523.8 108.2L521.8 108.3L519.8 108.4L517.8 108.5L515.7 108.6L513.7 108.7L511.7 108.8L509.7 108.9L507.7 108.9L505.7 109.0L503.7 109.1L501.7 109.2L499.7 109.3L497.6 109.4L495.6 109.5L493.6 109.5L491.6 109.6L489.6 109.7L487.6 109.8L485.6 109.8L483.6 109.9L481.6 110.0L479.5 110.1L477.5 110.1L475.5 110.2L473.5 110.3L471.5 110.4L469.5 110.4L467.5 110.5L465.5 110.6L463.4 110.7L461.4 110.7L459.4 110.8L457.4 110.9L455.4 111.0L453.4 111.0L451.4 111.1L449.4 111.2L447.4 111.3L445.3 111.4L443.3 111.4L441.3 111.5L439.3 111.6L437.3 111.7L435.3 111.8L433.3 111.9L431.3 112.0L429.3 112.1L427.2 112.2L425.2 112.3L423.2 112.4L421.2 112.5L419.2 112.6L417.2 112.8L415.2 112.9L413.2 113.0L411.2 113.2L409.2 113.3L407.2 113.4L405.2 113.6L403.1 113.7L401.1 113.9L399.1 114.0L397.1 114.2L395.1 114.4L393.1 114.6L391.1 114.7L389.1 114.9L387.1 115.1L385.1 115.4L383.1 115.6L381.1 115.8L379.1 116.1L377.1 116.4L375.1 116.7L373.1 117.0L371.1 117.3L369.2 117.6L367.2 117.9L365.2 118.3L363.2 118.7L361.2 119.1L359.3 119.5L357.3 119.9L355.3 120.4L353.4 120.8L351.4 121.3L349.5 121.8L347.5 122.3L345.6 122.8L343.7 123.4L341.7 124.0L339.8 124.6L337.9 125.2L336.0 125.9L334.1 126.6L332.2 127.3L330.4 128.1L328.5 128.9L326.7 129.7L324.9 130.6L323.1 131.5L321.3 132.4L319.5 133.4L317.8 134.4L316.1 135.5L314.4 136.6L312.8 137.8L311.3 139.1L309.7 140.4L308.3 141.8L306.9 143.2L305.6 144.8L304.3 146.3L303.1 147.9L301.9 149.6L300.8 151.2L299.6 152.9L298.5 154.6L297.4 156.2L296.3 157.9L295.2 159.6L294.2 161.4L293.2 163.1L292.2 164.9L291.3 166.6L290.4 168.4L289.5 170.2L288.6 172.1L287.7 173.9L286.8 175.7L286.0 177.5L285.1 179.3L284.2 181.1L283.4 182.9L282.5 184.8L281.7 186.6L280.9 188.4L280.0 190.3L279.2 192.1L278.4 194.0L277.6 195.8L276.8 197.7L276.0 199.5L275.3 201.4L274.6 203.3L273.8 205.1L273.1 207.0L272.5 208.9L271.8 210.8L271.1 212.7L270.4 214.6L269.7 216.5L269.1 218.4L268.4 220.3L267.7 222.2L267.0 224.1L266.2 225.9L265.5 227.8L264.7 229.7L264.0 231.5L263.2 233.4L262.4 235.2L261.6 237.1L260.8 238.9L259.9 240.7L259.1 242.6L258.1 244.3L257.2 246.1L256.1 247.8L255.1 249.5L253.9 251.2L252.7 252.8L251.4 254.4L250.1 255.9L248.8 257.4L247.4 258.8L245.9 260.2L244.3 261.4L242.6 262.5L240.8 263.5L239.0 264.3L237.1 264.9L235.1 265.1L233.1 264.8L231.1 264.3L229.3 263.5L227.5 262.6L225.7 261.7L223.9 260.7L222.1 259.8L220.3 258.9L218.5 258.0L216.8 257.0L215.0 256.1L213.2 255.2L211.4 254.3L209.5 253.5L207.7 252.6L205.9 251.7L204.1 250.9L202.2 250.1L200.4 249.3L198.5 248.5L196.7 247.7L194.8 247.0L192.9 246.3L191.0 245.6L189.1 244.9L187.2 244.2L185.3 243.6L183.4 243.0L181.5 242.5L179.5 242.0L177.5 241.5L175.6 241.1L173.6 240.8L171.6 240.5L169.6 240.3L167.6 240.1L165.6 240.0L163.6 239.9L161.6 239.9L159.5 239.8L157.5 239.9L155.5 239.9L153.5 239.9L151.5 240.0L151.5 240.0L152.8 238.5L154.2 237.0L155.5 235.5L156.9 234.1L158.4 232.7L159.9 231.3L161.4 230.0L162.9 228.7L164.5 227.4L166.0 226.1L167.5 224.9L169.1 223.6L170.7 222.3L172.3 221.1L173.9 220.0L175.6 218.8L177.2 217.7L178.9 216.6L180.6 215.4L182.2 214.3L183.9 213.1L185.5 212.0L187.2 210.9L188.9 209.8L190.6 208.7L192.2 207.6L194.0 206.5L195.7 205.5L197.4 204.4L199.1 203.4L200.9 202.4L202.6 201.5L204.4 200.5L206.1 199.5L207.9 198.5L209.6 197.5L211.4 196.5L213.1 195.5L214.9 194.5L216.6 193.5L218.3 192.3L219.9 191.2L221.5 189.9L223.0 188.6L224.5 187.3L226.0 185.9L227.4 184.5L228.8 183.1L230.1 181.5L231.4 180.0L232.6 178.4L233.8 176.8L235.0 175.1L236.1 173.5L237.2 171.8L238.4 170.1L239.5 168.5L240.7 166.8L241.8 165.2L243.0 163.6L244.1 161.9L245.3 160.2L246.4 158.6L247.4 156.9L248.5 155.2L249.5 153.4L250.5 151.7L251.5 149.9L252.5 148.2L253.5 146.4L254.4 144.7L255.4 142.9L256.3 141.1L257.3 139.3L258.2 137.6L259.2 135.8L260.1 134.0L261.0 132.2L262.0 130.5L262.9 128.7L263.9 126.9L264.8 125.1L265.7 123.3L266.7 121.6L267.6 119.8L268.5 118.0L269.5 116.2L270.4 114.5L271.4 112.7L272.3 110.9L273.2 109.1L274.2 107.3L275.1 105.6L276.1 103.8L277.0 102.0L278.1 100.3L279.3 98.7L280.7 97.2L282.1 95.8L283.6 94.4L285.0 93.1L286.4 91.6L287.7 90.1L288.9 88.5L290.2 86.9L291.3 85.3L292.5 83.6L293.7 82.0L295.0 80.4L296.2 78.9L297.6 77.4L299.1 76.1L300.7 74.9L302.5 73.9L304.4 73.2L306.3 72.9L308.3 72.9L310.3 73.2L312.3 73.7L314.2 74.4L316.0 75.2L317.9 76.0L319.7 76.8L321.5 77.7L323.3 78.5L325.1 79.4L327.0 80.2L328.8 81.0L330.7 81.8L332.5 82.5L334.4 83.2L336.3 83.8L338.2 84.5L340.2 85.1L342.1 85.7L344.0 86.3L345.9 86.9L347.8 87.4L349.8 88.0L351.7 88.5L353.7 89.0L355.6 89.5L357.6 90.0L359.5 90.4L361.5 90.9L363.5 91.3L365.4 91.7L367.4 92.1L369.4 92.5L371.4 92.8L373.3 93.2L375.3 93.5L377.3 93.8L379.3 94.1L381.3 94.3L383.3 94.6L385.3 94.8L387.3 95.0L389.3 95.3L391.3 95.5L393.3 95.7L395.3 95.8L397.3 96.0L399.3 96.2L401.3 96.3L403.3 96.5L405.3 96.6L407.3 96.7L409.3 96.8L411.3 96.9L413.3 97.0L415.3 97.1L417.3 97.2L419.4 97.3L421.4 97.4L423.4 97.5L425.4 97.6L427.4 97.6L429.4 97.7L431.4 97.8L433.4 97.8L435.4 97.9L437.4 97.9L439.4 98.0L441.5 98.0L443.5 98.1L445.5 98.1L447.5 98.1L449.5 98.2L451.5 98.2L453.5 98.2L455.5 98.3L457.5 98.3L459.5 98.3L461.6 98.4L463.6 98.4L465.6 98.4L467.6 98.4L469.6 98.5L471.6 98.5L473.6 98.5L475.6 98.5L477.6 98.5L479.6 98.5L481.7 98.6L483.7 98.6L485.7 98.6L487.7 98.6L489.7 98.6L491.7 98.6L493.7 98.6L495.7 98.6L497.7 98.6L499.8 98.6L501.8 98.6L503.8 98.6L505.8 98.5L507.8 98.5L509.8 98.5L511.8 98.5L513.8 98.5L515.8 98.5L517.8 98.4L519.9 98.4L521.9 98.4L523.9 98.4L525.9 98.3L527.9 98.3L529.9 98.3L531.9 98.2L533.9 98.2L535.9 98.2L537.9 98.1L540.0 98.1L542.0 98.1L544.0 98.0L546.0 98.0L548.0 98.0L550.0 97.9L552.0 97.9L554.0 97.8L556.0 97.8L558.0 97.8L560.1 97.7L562.1 97.7L564.1 97.6L566.1 97.6L568.1 97.6L570.1 97.5L572.1 97.5L574.1 97.4L576.1 97.4L578.1 97.4L580.2 97.3L582.2 97.3L584.2 97.2L586.2 97.2L588.2 97.2L590.2 97.1L592.2 97.1L594.2 97.1L596.2 97.0L598.2 97.0L600.3 96.9L602.3 96.9L604.3 96.9L606.3 96.8L608.3 96.8L610.3 96.8L612.3 96.7L614.3 96.7L616.3 96.7L618.3 96.6L620.4 96.6L622.4 96.5L624.4 96.5L626.4 96.5L628.4 96.4L630.4 96.4L632.4 96.4L634.4 96.3L636.4 96.3L638.4 96.2L640.5 96.2L642.5 96.2L644.5 96.1L646.5 96.1L648.5 96.1L650.5 96.0Z" stroke="#ff00ff"/>
<path d="M650.5 103.5L648.5 103.5L646.5 103.6L644.5 103.7L642.5 103.8L640.5 103.8L638.5 103.9L636.5 104.0L634.4 104.1L632.4 104.2L630.4 104.2L628.4 104.3L626.4 104.4L624.4 104.5L622.4 104.5L620.4 104.6L618.4 104.7L616.4 104.8L614.4 104.9L612.4 104.9L610.4 105.0L608.4 105.1L606.4 105.2L604.4 105.3L602.3 105.3L600.3 105.4L598.3 105.5L596.3 105.6L594.3 105.7L592.3 105.8L590.3 105.8L588.3 105.9L586.3 106.0L584.3 106.1L582.3 106.2L580.3 106.2L578.3 106.3L576.3 106.4L574.3 106.5L572.3 106.6L570.3 106.7L568.2 106.7L566.2 106.8L564.2 106.9L562.2 107.0L560.2 107.1L558.2 107.2L556.2 107.3L554.2 107.3L552.2 107.4L550.2 107.5L548.2 107.6L546.2 107.7L544.2 107.8L542.2 107.9L540.2 108.0L538.2 108.1L536.2 108.2L534.1 108.3L532.1 108.4L530.1 108.4L528.1 108.5L526.1 108.6L524.1 108.7L522.1 108.8L520.1 108.9L518.1 109.0L516.1 109.1L514.1 109.2L512.1 109.3L510.1 109.4L508.1 109.4L506.1 109.5L504.1 109.6L502.1 109.7L500.0 109.8L498.0 109.9L496.0 110.0L494.0 110.0L492.0 110.1L490.0 110.2L488.0 110.3L486.0 110.4L484.0 110.4L482.0 110.5L480.0 110.6L478.0 110.7L476.0 110.8L474.0 110.9L472.0 110.9L470.0 111.0L467.9 111.1L465.9 111.2L463.9 111.3L461.9 111.3L459.9 111.4L457.9 111.5L455.9 111.6L453.9 111.7L451.9 111.8L449.9 111.8L447.9 111.9L445.9 112.0L443.9 112.1L441.9 112.2L439.9 112.3L437.9 112.4L435.9 112.5L433.8 112.6L431.8 112.7L429.8 112.8L427.8 112.9L425.8 113.0L423.8 113.1L421.8 113.2L419.8 113.4L417.8 113.5L415.8 113.6L413.8 113.8L411.8 113.9L409.8 114.1L407.8 114.2L405.8 114.4L403.8 114.5L401.8 114.7L399.8 114.9L397.8 115.1L395.8 115.3L393.8 115.5L391.8 115.7L389.8 115.9L387.8 116.1L385.8 116.4L383.8 116.6L381.8 116.9L379.8 117.2L377.9 117.5L375.9 117.8L373.9 118.1L371.9 118.5L369.9 118.8L368.0 119.2L366.0 119.6L364.0 120.0L362.1 120.4L360.1 120.9L358.2 121.3L356.2 121.8L354.3 122.3L352.3 122.8L350.4 123.3L348.4 123.8L346.5 124.3L344.6 124.9L342.6 125.5L340.7 126.0L338.8 126.7L336.9 127.3L335.0 128.0L333.2 128.8L331.3 129.5L329.5 130.3L327.6 131.2L325.8 132.0L324.0 132.9L322.3 133.8L320.5 134.8L318.8 135.9L317.1 137.0L315.5 138.2L313.9 139.4L312.4 140.7L310.9 142.0L309.4 143.4L308.1 144.9L306.7 146.4L305.5 148.0L304.3 149.6L303.1 151.2L302.0 152.9L300.9 154.6L299.8 156.3L298.8 158.0L297.7 159.7L296.7 161.4L295.6 163.1L294.6 164.8L293.6 166.6L292.7 168.4L291.8 170.1L290.9 171.9L290.0 173.8L289.2 175.6L288.3 177.4L287.5 179.2L286.6 181.1L285.8 182.9L285.0 184.7L284.2 186.5L283.3 188.4L282.5 190.2L281.7 192.0L280.9 193.9L280.1 195.7L279.3 197.6L278.5 199.4L277.7 201.2L276.9 203.1L276.1 204.9L275.4 206.8L274.7 208.7L274.0 210.6L273.3 212.5L272.6 214.4L272.0 216.3L271.4 218.2L270.7 220.1L270.1 222.0L269.5 223.9L268.9 225.8L268.2 227.7L267.6 229.6L266.9 231.5L266.2 233.4L265.5 235.3L264.8 237.1L264.1 239.0L263.4 240.9L262.7 242.8L262.0 244.6L261.2 246.5L260.4 248.4L259.6 250.2L258.8 252.0L258.0 253.9L257.1 255.7L256.2 257.5L255.3 259.2L254.3 261.0L253.2 262.7L252.1 264.4L251.0 266.0L249.8 267.7L248.6 269.3L247.4 270.8L246.1 272.4L244.7 273.8L243.2 275.2L241.7 276.5L240.1 277.7L238.4 278.7L236.5 279.5L234.5 279.9L232.5 280.0L230.6 279.6L228.6 279.1L226.8 278.3L225.0 277.5L223.2 276.6L221.4 275.6L219.6 274.7L217.8 273.8L216.0 272.9L214.2 272.0L212.4 271.1L210.6 270.2L208.8 269.4L207.0 268.5L205.2 267.7L203.3 266.8L201.5 266.0L199.7 265.2L197.9 264.4L196.0 263.5L194.2 262.8L192.3 262.0L190.5 261.2L188.6 260.4L186.7 259.7L184.9 259.0L183.0 258.3L181.1 257.6L179.2 256.9L177.3 256.3L175.3 255.8L173.4 255.3L171.4 254.9L169.5 254.6L167.5 254.3L165.5 254.0L163.5 253.8L161.5 253.6L159.5 253.5L157.5 253.3L155.5 253.2L153.5 253.1L151.5 253.0L151.5 253.0L152.7 251.4L153.9 249.8L155.2 248.2L156.5 246.7L157.8 245.2L159.2 243.7L160.6 242.3L162.0 240.9L163.5 239.5L164.9 238.1L166.4 236.7L167.9 235.4L169.4 234.1L170.9 232.8L172.5 231.5L174.1 230.3L175.7 229.1L177.3 227.8L178.9 226.6L180.5 225.4L182.1 224.2L183.7 223.0L185.3 221.8L186.9 220.6L188.5 219.4L190.1 218.2L191.7 217.0L193.4 215.8L195.0 214.7L196.6 213.5L198.2 212.2L199.8 211.1L201.5 209.9L203.2 208.9L204.9 207.8L206.5 206.6L208.1 205.4L209.7 204.1L211.2 202.8L212.7 201.5L214.3 200.2L215.8 198.9L217.3 197.6L218.8 196.3L220.3 194.9L221.8 193.6L223.3 192.2L224.7 190.8L226.1 189.4L227.5 187.9L228.8 186.4L230.1 184.9L231.4 183.3L232.5 181.6L233.7 180.0L234.8 178.3L235.8 176.6L236.9 174.9L238.0 173.2L239.0 171.5L240.0 169.8L241.1 168.0L242.1 166.3L243.2 164.6L244.2 162.9L245.3 161.2L246.3 159.5L247.4 157.8L248.4 156.0L249.4 154.3L250.4 152.6L251.4 150.8L252.4 149.0L253.3 147.3L254.2 145.5L255.2 143.7L256.1 141.9L257.0 140.1L257.9 138.3L258.8 136.5L259.7 134.8L260.6 133.0L261.5 131.2L262.4 129.4L263.3 127.6L264.2 125.8L265.1 124.0L266.0 122.2L266.9 120.4L267.8 118.6L268.7 116.8L269.6 115.0L270.5 113.2L271.4 111.4L272.3 109.6L273.2 107.8L274.1 106.0L275.0 104.2L275.9 102.4L276.9 100.7L277.9 98.9L279.0 97.2L280.2 95.6L281.4 94.0L282.7 92.5L284.0 91.0L285.4 89.5L286.7 88.0L288.0 86.4L289.3 84.9L290.5 83.3L291.8 81.7L293.0 80.1L294.2 78.5L295.5 77.0L296.8 75.4L298.1 73.9L299.6 72.6L301.2 71.4L303.0 70.5L304.9 69.8L306.9 69.4L308.9 69.2L310.9 69.4L312.9 69.8L314.8 70.4L316.6 71.2L318.4 72.0L320.3 72.9L322.1 73.7L323.9 74.6L325.7 75.4L327.6 76.2L329.4 77.0L331.3 77.8L333.1 78.5L335.0 79.2L336.9 79.9L338.8 80.6L340.7 81.2L342.6 81.9L344.5 82.5L346.4 83.2L348.3 83.8L350.2 84.4L352.2 85.0L354.1 85.6L356.0 86.1L358.0 86.7L359.9 87.2L361.8 87.7L363.8 88.2L365.7 88.7L367.7 89.1L369.7 89.6L371.6 90.0L373.6 90.4L375.6 90.8L377.5 91.1L379.5 91.5L381.5 91.8L383.5 92.1L385.5 92.4L387.5 92.7L389.5 92.9L391.4 93.2L393.4 93.4L395.4 93.7L397.4 93.9L399.4 94.1L401.4 94.3L403.4 94.4L405.4 94.6L407.4 94.8L409.5 94.9L411.5 95.0L413.5 95.2L415.5 95.3L417.5 95.4L419.5 95.5L421.5 95.6L423.5 95.8L425.5 95.9L427.5 96.0L429.5 96.1L431.5 96.1L433.5 96.2L435.5 96.3L437.5 96.4L439.5 96.4L441.6 96.5L443.6 96.5L445.6 96.6L447.6 96.6L449.6 96.7L451.6 96.8L453.6 96.8L455.6 96.9L457.6 96.9L459.6 96.9L461.6 97.0L463.7 97.0L465.7 97.0L467.7 97.1L469.7 97.1L471.7 97.1L473.7 97.2L475.7 97.2L477.7 97.2L479.7 97.3L481.7 97.3L483.7 97.3L485.8 97.3L487.8 97.3L489.8 97.4L491.8 97.4L493.8 97.4L495.8 97.4L497.8 97.4L499.8 97.4L501.8 97.4L503.8 97.4L505.8 97.4L507.9 97.4L509.9 97.4L511.9 97.4L513.9 97.4L515.9 97.3L517.9 97.3L519.9 97.3L521.9 97.3L523.9 97.3L525.9 97.2L527.9 97.2L530.0 97.2L532.0 97.2L534.0 97.1L536.0 97.1L538.0 97.1L540.0 97.0L542.0 97.0L544.0 97.0L546.0 96.9L548.0 96.9L550.0 96.9L552.1 96.8L554.1 96.8L556.1 96.8L558.1 96.7L560.1 96.7L562.1 96.6L564.1 96.6L566.1 96.6L568.1 96.5L570.1 96.5L572.1 96.5L574.2 96.4L576.2 96.4L578.2 96.3L580.2 96.3L582.2 96.3L584.2 96.2L586.2 96.2L588.2 96.2L590.2 96.1L592.2 96.1L594.2 96.1L596.3 96.0L598.3 96.0L600.3 96.0L602.3 95.9L604.3 95.9L606.3 95.9L608.3 95.8L610.3 95.8L612.3 95.7L614.3 95.7L616.3 95.7L618.4 95.6L620.4 95.6L622.4 95.6L624.4 95.5L626.4 95.5L628.4 95.5L630.4 95.4L632.4 95.4L634.4 95.4L636.4 95.3L638.4 95.3L640.5 95.2L642.5 95.2L644.5 95.2L646.5 95.1L648.5 95.1L650.5 95.1Z" stroke="#808000"/>
<path d="M650.5 103.7L648.5 103.8L646.5 103.9L644.5 103.9L642.5 104.0L640.4 104.1L638.4 104.2L636.4 104.3L634.4 104.4L632.4 104.4L630.4 104.5L628.4 104.6L626.4 104.7L624.4 104.8L622.4 104.9L620.3 104.9L618.3 105.0L616.3 105.1L614.3 105.2L612.3 105.3L610.3 105.4L608.3 105.5L606.3 105.5L604.3 105.6L602.3 105.7L600.2 105.8L598.2 105.9L596.2 106.0L594.2 106.0L592.2 106.1L590.2 106.2L588.2 106.3L586.2 106.4L584.2 106.5L582.1 106.6L580.1 106.6L578.1 106.7L576.1 106.8L574.1 106.9L572.1 107.0L570.1 107.1L568.1 107.2L566.1 107.2L564.1 107.3L562.0 107.4L560.0 107.5L558.0 107.6L556.0 107.7L554.0 107.8L552.0 107.9L550.0 108.0L548.0 108.0L546.0 108.1L544.0 108.2L541.9 108.3L539.9 108.4L537.9 108.5L535.9 108.6L533.9 108.7L531.9 108.8L529.9 108.9L527.9 109.0L525.9 109.0L523.9 109.1L521.8 109.2L519.8 109.3L517.8 109.4L515.8 109.5L513.8 109.6L511.8 109.7L509.8 109.8L507.8 109.8L505.8 109.9L503.7 110.0L501.7 110.1L499.7 110.2L497.7 110.3L495.7 110.3L493.7 110.4L491.7 110.5L489.7 110.6L487.7 110.7L485.7 110.8L483.6 110.9L481.6 110.9L479.6 111.0L477.6 111.1L475.6 111.2L473.6 111.3L471.6 111.4L469.6 111.5L467.6 111.5L465.6 111.6L463.5 111.7L461.5 111.8L459.5 111.9L457.5 112.0L455.5 112.1L453.5 112.2L451.5 112.2L449.5 112.3L447.5 112.4L445.5 112.5L443.4 112.6L441.4 112.7L439.4 112.8L437.4 112.9L435.4 113.0L433.4 113.1L431.4 113.2L429.4 113.3L427.4 113.4L425.4 113.6L423.3 113.7L421.3 113.8L419.3 114.0L417.3 114.1L415.3 114.3L413.3 114.4L411.3 114.6L409.3 114.7L407.3 114.9L405.3 115.1L403.3 115.2L401.3 115.4L399.3 115.6L397.3 115.8L395.3 116.0L393.3 116.2L391.3 116.5L389.3 116.7L387.3 117.0L385.3 117.2L383.3 117.5L381.3 117.8L379.3 118.1L377.3 118.5L375.4 118.8L373.4 119.2L371.4 119.5L369.4 119.9L367.5 120.3L365.5 120.8L363.5 121.2L361.6 121.6L359.6 122.1L357.7 122.6L355.7 123.1L353.8 123.6L351.8 124.1L349.9 124.7L347.9 125.2L346.0 125.8L344.1 126.3L342.1 126.9L340.2 127.5L338.3 128.2L336.4 128.8L334.5 129.5L332.7 130.3L330.8 131.1L329.0 131.9L327.2 132.8L325.3 133.6L323.6 134.6L321.8 135.5L320.1 136.6L318.4 137.7L316.8 138.9L315.2 140.1L313.6 141.4L312.1 142.7L310.7 144.1L309.3 145.6L308.0 147.1L306.7 148.6L305.5 150.2L304.3 151.9L303.2 153.5L302.1 155.2L301.0 156.9L300.0 158.7L299.0 160.4L297.9 162.1L296.9 163.9L295.9 165.6L294.9 167.4L293.9 169.1L293.0 170.9L292.1 172.7L291.2 174.5L290.4 176.3L289.5 178.2L288.7 180.0L287.9 181.8L287.1 183.7L286.3 185.5L285.5 187.4L284.7 189.2L283.9 191.0L283.1 192.9L282.3 194.7L281.5 196.6L280.7 198.4L279.9 200.3L279.1 202.1L278.3 204.0L277.5 205.8L276.7 207.7L276.0 209.5L275.2 211.4L274.5 213.3L273.8 215.2L273.1 217.1L272.5 219.0L271.9 220.9L271.3 222.8L270.7 224.8L270.1 226.7L269.5 228.6L268.9 230.5L268.3 232.4L267.7 234.4L267.1 236.3L266.4 238.2L265.8 240.1L265.1 242.0L264.4 243.9L263.7 245.8L263.1 247.7L262.4 249.5L261.6 251.4L260.9 253.3L260.2 255.2L259.4 257.0L258.7 258.9L257.9 260.8L257.1 262.6L256.2 264.4L255.3 266.2L254.4 268.0L253.5 269.8L252.5 271.5L251.4 273.3L250.4 275.0L249.3 276.7L248.1 278.3L247.0 280.0L245.8 281.6L244.5 283.2L243.2 284.7L241.8 286.1L240.3 287.5L238.7 288.7L237.0 289.7L235.1 290.5L233.2 290.9L231.2 290.9L229.2 290.6L227.3 289.9L225.5 289.1L223.7 288.2L221.9 287.2L220.2 286.2L218.4 285.2L216.7 284.2L214.9 283.2L213.2 282.2L211.4 281.3L209.6 280.3L207.9 279.4L206.1 278.4L204.3 277.5L202.5 276.5L200.7 275.6L198.9 274.7L197.2 273.8L195.4 272.9L193.6 272.0L191.8 271.1L190.0 270.2L188.1 269.3L186.3 268.4L184.5 267.6L182.7 266.7L180.8 265.9L179.0 265.1L177.1 264.4L175.2 263.7L173.3 263.2L171.3 262.6L169.4 262.2L167.4 261.8L165.4 261.4L163.4 261.1L161.5 260.8L159.5 260.6L157.5 260.4L155.5 260.2L153.4 260.0L151.4 259.8L151.4 259.8L152.6 258.2L153.8 256.5L155.0 254.9L156.2 253.4L157.5 251.8L158.9 250.3L160.3 248.9L161.7 247.4L163.1 246.0L164.5 244.6L165.9 243.2L167.4 241.8L168.9 240.5L170.5 239.2L172.0 237.9L173.6 236.7L175.2 235.4L176.8 234.2L178.4 233.0L180.0 231.7L181.6 230.5L183.1 229.3L184.7 228.0L186.3 226.8L187.9 225.6L189.5 224.4L191.1 223.2L192.7 221.9L194.3 220.7L195.9 219.5L197.5 218.2L199.1 217.0L200.7 215.9L202.4 214.8L204.1 213.7L205.7 212.5L207.3 211.2L208.8 209.9L210.2 208.5L211.7 207.1L213.1 205.7L214.5 204.3L216.0 202.9L217.4 201.5L218.9 200.1L220.3 198.7L221.7 197.2L223.2 195.8L224.6 194.4L225.9 192.9L227.3 191.4L228.6 189.9L229.9 188.4L231.1 186.8L232.3 185.1L233.4 183.5L234.5 181.8L235.6 180.1L236.6 178.4L237.6 176.6L238.6 174.9L239.6 173.1L240.6 171.4L241.5 169.6L242.5 167.8L243.5 166.1L244.5 164.3L245.4 162.6L246.4 160.8L247.4 159.1L248.4 157.3L249.4 155.6L250.4 153.8L251.3 152.0L252.3 150.3L253.2 148.5L254.1 146.7L255.0 144.9L255.9 143.1L256.8 141.3L257.7 139.5L258.5 137.7L259.4 135.9L260.3 134.1L261.2 132.2L262.0 130.4L262.9 128.6L263.8 126.8L264.6 125.0L265.5 123.2L266.4 121.4L267.2 119.5L268.1 117.7L269.0 115.9L269.8 114.1L270.7 112.3L271.6 110.5L272.4 108.7L273.3 106.8L274.2 105.0L275.1 103.2L276.0 101.4L276.9 99.6L277.8 97.9L278.8 96.1L279.8 94.4L280.8 92.6L282.0 91.0L283.1 89.3L284.3 87.7L285.6 86.2L286.8 84.6L288.1 83.0L289.4 81.4L290.6 79.9L291.8 78.3L293.1 76.7L294.3 75.1L295.6 73.6L297.0 72.1L298.4 70.7L299.9 69.4L301.6 68.2L303.3 67.2L305.2 66.5L307.1 66.0L309.1 65.7L311.1 65.7L313.1 65.9L315.1 66.3L317.0 67.1L318.8 67.9L320.6 68.8L322.4 69.7L324.2 70.5L326.1 71.3L327.9 72.1L329.8 72.9L331.6 73.7L333.5 74.4L335.4 75.1L337.2 75.9L339.1 76.6L341.0 77.3L342.9 78.0L344.8 78.7L346.7 79.4L348.6 80.0L350.5 80.7L352.4 81.4L354.3 82.0L356.2 82.6L358.1 83.2L360.0 83.8L361.9 84.4L363.9 85.0L365.8 85.5L367.7 86.0L369.7 86.5L371.6 87.0L373.6 87.5L375.6 87.9L377.5 88.4L379.5 88.8L381.5 89.1L383.4 89.5L385.4 89.9L387.4 90.2L389.4 90.5L391.4 90.8L393.4 91.1L395.4 91.4L397.3 91.7L399.3 91.9L401.3 92.1L403.3 92.4L405.3 92.6L407.3 92.7L409.3 92.9L411.3 93.1L413.4 93.3L415.4 93.4L417.4 93.6L419.4 93.7L421.4 93.9L423.4 94.0L425.4 94.1L427.4 94.3L429.4 94.4L431.4 94.5L433.4 94.6L435.4 94.7L437.4 94.8L439.4 94.8L441.4 94.9L443.5 95.0L445.5 95.1L447.5 95.1L449.5 95.2L451.5 95.3L453.5 95.4L455.5 95.4L457.5 95.5L459.5 95.5L461.5 95.6L463.5 95.6L465.6 95.7L467.6 95.7L469.6 95.8L471.6 95.8L473.6 95.9L475.6 95.9L477.6 95.9L479.6 96.0L481.6 96.0L483.7 96.0L485.7 96.1L487.7 96.1L489.7 96.1L491.7 96.2L493.7 96.2L495.7 96.2L497.7 96.2L499.7 96.2L501.7 96.2L503.8 96.2L505.8 96.2L507.8 96.2L509.8 96.2L511.8 96.2L513.8 96.2L515.8 96.2L517.8 96.2L519.8 96.2L521.8 96.2L523.9 96.2L525.9 96.2L527.9 96.1L529.9 96.1L531.9 96.1L533.9 96.1L535.9 96.0L537.9 96.0L539.9 96.0L542.0 96.0L544.0 95.9L546.0 95.9L548.0 95.9L550.0 95.8L552.0 95.8L554.0 95.8L556.0 95.7L558.0 95.7L560.0 95.7L562.1 95.6L564.1 95.6L566.1 95.5L568.1 95.5L570.1 95.5L572.1 95.4L574.1 95.4L576.1 95.4L578.1 95.3L580.1 95.3L582.2 95.3L584.2 95.2L586.2 95.2L588.2 95.2L590.2 95.1L592.2 95.1L594.2 95.1L596.2 95.0L598.2 95.0L600.2 95.0L602.3 94.9L604.3 94.9L606.3 94.9L608.3 94.8L610.3 94.8L612.3 94.8L614.3 94.7L616.3 94.7L618.3 94.7L620.3 94.6L622.4 94.6L624.4 94.6L626.4 94.5L628.4 94.5L630.4 94.5L632.4 94.4L634.4 94.4L636.4 94.4L638.4 94.3L640.4 94.3L642.5 94.3L644.5 94.2L646.5 94.2L648.5 94.1L650.5 94.1Z" stroke="#000080"/>
<path d="M650.5 104.0L648.5 104.1L646.5 104.2L644.5 104.3L642.5 104.3L640.5 104.4L638.4 104.5L636.4 104.6L634.4 104.7L632.4 104.8L630.4 104.9L628.4 105.0L626.4 105.1L624.4 105.1L622.4 105.2L620.4 105.3L618.4 105.4L616.4 105.5L614.3 105.6L612.3 105.7L610.3 105.8L608.3 105.9L606.3 106.0L604.3 106.0L602.3 106.1L600.3 106.2L598.3 106.3L596.3 106.4L594.3 106.5L592.3 106.6L590.2 106.7L588.2 106.8L586.2 106.8L584.2 106.9L582.2 107.0L580.2 107.1L578.2 107.2L576.2 107.3L574.2 107.4L572.2 107.5L570.2 107.6L568.1 107.6L566.1 107.7L564.1 107.8L562.1 107.9L560.1 108.0L558.1 108.1L556.1 108.2L554.1 108.3L552.1 108.4L550.1 108.4L548.1 108.5L546.1 108.6L544.0 108.7L542.0 108.8L540.0 108.9L538.0 109.0L536.0 109.1L534.0 109.2L532.0 109.2L530.0 109.3L528.0 109.4L526.0 109.5L524.0 109.6L521.9 109.7L519.9 109.8L517.9 109.8L515.9 109.9L513.9 110.0L511.9 110.1L509.9 110.2L507.9 110.3L505.9 110.4L503.9 110.5L501.9 110.5L499.9 110.6L497.8 110.7L495.8 110.8L493.8 110.9L491.8 111.0L489.8 111.1L487.8 111.1L485.8 111.2L483.8 111.3L481.8 111.4L479.8 111.5L477.8 111.6L475.8 111.7L473.7 111.8L471.7 111.9L469.7 111.9L467.7 112.0L465.7 112.1L463.7 112.2L461.7 112.3L459.7 112.4L457.7 112.5L455.7 112.6L453.7 112.7L451.6 112.8L449.6 112.9L447.6 113.0L445.6 113.1L443.6 113.2L441.6 113.3L439.6 113.4L437.6 113.5L435.6 113.6L433.6 113.7L431.6 113.8L429.6 113.9L427.6 114.1L425.6 114.2L423.5 114.3L421.5 114.5L419.5 114.6L417.5 114.8L415.5 114.9L413.5 115.1L411.5 115.3L409.5 115.4L407.5 115.6L405.5 115.8L403.5 116.0L401.5 116.2L399.5 116.4L397.5 116.6L395.5 116.8L393.5 117.1L391.5 117.3L389.5 117.6L387.5 117.8L385.5 118.1L383.6 118.4L381.6 118.8L379.6 119.1L377.6 119.5L375.6 119.8L373.7 120.2L371.7 120.6L369.7 121.0L367.8 121.5L365.8 121.9L363.8 122.4L361.9 122.9L359.9 123.4L358.0 123.9L356.1 124.4L354.1 124.9L352.2 125.5L350.3 126.0L348.3 126.6L346.4 127.2L344.5 127.7L342.5 128.3L340.6 128.9L338.7 129.6L336.8 130.3L334.9 131.0L333.1 131.7L331.2 132.5L329.4 133.3L327.6 134.2L325.8 135.1L324.0 136.0L322.2 137.0L320.5 138.0L318.9 139.2L317.2 140.4L315.7 141.6L314.2 142.9L312.7 144.3L311.3 145.7L309.9 147.2L308.6 148.7L307.3 150.3L306.1 151.9L305.0 153.5L303.9 155.2L302.8 156.9L301.8 158.6L300.7 160.4L299.8 162.1L298.8 163.9L297.8 165.6L296.8 167.4L295.8 169.2L294.9 170.9L294.0 172.7L293.0 174.5L292.2 176.3L291.3 178.1L290.5 180.0L289.7 181.8L288.9 183.6L288.1 185.5L287.3 187.3L286.5 189.2L285.7 191.0L285.0 192.9L284.2 194.8L283.4 196.6L282.6 198.5L281.9 200.3L281.1 202.2L280.3 204.0L279.5 205.9L278.7 207.7L278.0 209.6L277.2 211.4L276.4 213.3L275.7 215.2L274.9 217.0L274.2 218.9L273.6 220.8L272.9 222.7L272.3 224.6L271.7 226.6L271.2 228.5L270.6 230.4L270.0 232.4L269.5 234.3L268.9 236.2L268.3 238.1L267.7 240.1L267.2 242.0L266.6 243.9L266.0 245.8L265.3 247.7L264.7 249.6L264.0 251.5L263.4 253.4L262.7 255.3L262.0 257.2L261.4 259.1L260.7 261.0L260.0 262.9L259.3 264.8L258.5 266.7L257.8 268.5L257.0 270.4L256.3 272.2L255.5 274.1L254.6 275.9L253.8 277.7L252.9 279.5L252.0 281.3L251.0 283.1L250.0 284.8L249.0 286.6L248.0 288.3L246.9 290.0L245.9 291.7L244.7 293.4L243.6 295.0L242.3 296.6L241.0 298.1L239.6 299.6L238.2 301.0L236.6 302.2L234.8 303.1L232.9 303.8L230.9 304.0L228.9 303.8L227.0 303.3L225.1 302.5L223.3 301.5L221.6 300.5L219.9 299.4L218.3 298.3L216.6 297.2L214.9 296.1L213.2 295.0L211.5 293.9L209.8 292.9L208.1 291.8L206.4 290.8L204.6 289.7L202.9 288.7L201.2 287.7L199.5 286.6L197.8 285.6L196.0 284.5L194.3 283.5L192.6 282.5L190.8 281.5L189.1 280.5L187.4 279.5L185.6 278.5L183.9 277.5L182.1 276.5L180.4 275.5L178.6 274.6L176.8 273.7L174.9 272.9L173.0 272.2L171.1 271.6L169.2 271.0L167.3 270.5L165.3 270.0L163.3 269.6L161.4 269.2L159.4 268.9L157.4 268.6L155.4 268.3L153.4 268.0L151.4 267.7L151.4 267.7L152.5 266.0L153.7 264.4L154.8 262.7L156.0 261.1L157.2 259.5L158.5 258.0L159.9 256.5L161.2 255.0L162.6 253.5L164.0 252.1L165.4 250.6L166.8 249.2L168.3 247.8L169.8 246.5L171.3 245.2L172.9 244.0L174.5 242.8L176.1 241.5L177.6 240.3L179.2 239.0L180.8 237.7L182.3 236.5L183.9 235.2L185.5 234.0L187.0 232.7L188.6 231.5L190.2 230.2L191.7 228.9L193.3 227.7L194.8 226.4L196.4 225.1L197.9 223.8L199.5 222.6L201.1 221.4L202.8 220.3L204.5 219.2L206.0 217.9L207.5 216.6L208.9 215.1L210.3 213.7L211.7 212.2L213.0 210.7L214.4 209.2L215.7 207.8L217.1 206.3L218.5 204.8L219.8 203.3L221.2 201.9L222.6 200.4L224.0 198.9L225.3 197.5L226.6 196.0L227.9 194.4L229.2 192.8L230.4 191.2L231.6 189.6L232.7 188.0L233.9 186.3L235.0 184.6L236.0 182.9L237.0 181.2L238.0 179.4L238.9 177.7L239.9 175.9L240.8 174.1L241.7 172.3L242.6 170.5L243.6 168.7L244.5 166.9L245.4 165.2L246.3 163.4L247.2 161.6L248.1 159.8L249.0 158.0L250.0 156.2L250.9 154.4L251.8 152.6L252.7 150.9L253.6 149.1L254.5 147.3L255.4 145.5L256.3 143.6L257.1 141.8L258.0 140.0L258.8 138.2L259.7 136.4L260.5 134.5L261.3 132.7L262.2 130.9L263.0 129.1L263.8 127.2L264.7 125.4L265.5 123.6L266.3 121.7L267.2 119.9L268.0 118.1L268.8 116.3L269.6 114.4L270.5 112.6L271.3 110.8L272.1 108.9L272.9 107.1L273.8 105.3L274.6 103.5L275.5 101.6L276.4 99.8L277.3 98.0L278.2 96.2L279.1 94.5L280.0 92.7L281.0 90.9L282.0 89.2L283.0 87.4L284.1 85.7L285.2 84.1L286.3 82.4L287.5 80.8L288.7 79.2L289.9 77.6L291.1 75.9L292.3 74.4L293.6 72.8L294.8 71.2L296.2 69.7L297.6 68.3L299.1 66.9L300.6 65.7L302.3 64.6L304.1 63.7L306.0 63.0L307.9 62.5L309.9 62.2L311.9 62.1L313.9 62.2L315.9 62.5L317.8 63.2L319.7 64.0L321.5 64.9L323.3 65.7L325.1 66.6L326.9 67.4L328.8 68.2L330.6 69.0L332.5 69.7L334.3 70.5L336.2 71.2L338.1 72.0L339.9 72.7L341.8 73.5L343.7 74.2L345.5 75.0L347.4 75.7L349.3 76.4L351.2 77.1L353.0 77.8L354.9 78.5L356.8 79.2L358.7 79.9L360.6 80.6L362.5 81.2L364.4 81.9L366.3 82.5L368.2 83.0L370.2 83.6L372.1 84.1L374.0 84.6L376.0 85.1L377.9 85.6L379.9 86.1L381.8 86.5L383.8 87.0L385.8 87.4L387.7 87.8L389.7 88.1L391.7 88.5L393.7 88.8L395.7 89.2L397.6 89.5L399.6 89.8L401.6 90.0L403.6 90.3L405.6 90.5L407.6 90.8L409.6 91.0L411.6 91.2L413.6 91.4L415.6 91.5L417.6 91.7L419.6 91.9L421.6 92.1L423.6 92.2L425.6 92.4L427.6 92.6L429.6 92.7L431.6 92.8L433.6 93.0L435.6 93.1L437.6 93.2L439.6 93.3L441.6 93.4L443.6 93.5L445.7 93.6L447.7 93.6L449.7 93.7L451.7 93.8L453.7 93.9L455.7 94.0L457.7 94.1L459.7 94.1L461.7 94.2L463.7 94.3L465.7 94.3L467.7 94.4L469.7 94.4L471.8 94.5L473.8 94.5L475.8 94.6L477.8 94.7L479.8 94.7L481.8 94.7L483.8 94.8L485.8 94.8L487.8 94.9L489.8 94.9L491.8 94.9L493.8 95.0L495.8 95.0L497.9 95.0L499.9 95.0L501.9 95.1L503.9 95.1L505.9 95.1L507.9 95.1L509.9 95.1L511.9 95.1L513.9 95.1L515.9 95.1L517.9 95.1L520.0 95.1L522.0 95.1L524.0 95.1L526.0 95.1L528.0 95.1L530.0 95.0L532.0 95.0L534.0 95.0L536.0 95.0L538.0 95.0L540.0 94.9L542.0 94.9L544.1 94.9L546.1 94.8L548.1 94.8L550.1 94.8L552.1 94.8L554.1 94.7L556.1 94.7L558.1 94.7L560.1 94.6L562.1 94.6L564.1 94.6L566.1 94.5L568.2 94.5L570.2 94.5L572.2 94.4L574.2 94.4L576.2 94.4L578.2 94.3L580.2 94.3L582.2 94.3L584.2 94.2L586.2 94.2L588.2 94.2L590.2 94.1L592.3 94.1L594.3 94.1L596.3 94.0L598.3 94.0L600.3 94.0L602.3 93.9L604.3 93.9L606.3 93.9L608.3 93.9L610.3 93.8L612.3 93.8L614.3 93.8L616.4 93.7L618.4 93.7L620.4 93.7L622.4 93.6L624.4 93.6L626.4 93.6L628.4 93.5L630.4 93.5L632.4 93.5L634.4 93.4L636.4 93.4L638.4 93.4L640.5 93.3L642.5 93.3L644.5 93.3L646.5 93.2L648.5 93.2L650.5 93.2Z" stroke="#800000"/>
<path d="M650.5 104.3L648.5 104.3L646.5 104.4L644.5 104.5L642.5 104.6L640.4 104.7L638.4 104.8L636.4 104.9L634.4 105.0L632.4 105.1L630.4 105.2L628.4 105.3L626.4 105.4L624.4 105.5L622.4 105.6L620.3 105.7L618.3 105.8L616.3 105.9L614.3 106.0L612.3 106.1L610.3 106.2L608.3 106.2L606.3 106.3L604.3 106.4L602.2 106.5L600.2 106.6L598.2 106.7L596.2 106.8L594.2 106.9L592.2 107.0L590.2 107.1L588.2 107.2L586.2 107.3L584.2 107.4L582.1 107.5L580.1 107.5L578.1 107.6L576.1 107.7L574.1 107.8L572.1 107.9L570.1 108.0L568.1 108.1L566.1 108.2L564.0 108.3L562.0 108.4L560.0 108.5L558.0 108.6L556.0 108.6L554.0 108.7L552.0 108.8L550.0 108.9L548.0 109.0L546.0 109.1L543.9 109.2L541.9 109.3L539.9 109.3L537.9 109.4L535.9 109.5L533.9 109.6L531.9 109.7L529.9 109.8L527.9 109.9L525.8 109.9L523.8 110.0L521.8 110.1L519.8 110.2L517.8 110.3L515.8 110.4L513.8 110.4L511.8 110.5L509.8 110.6L507.7 110.7L505.7 110.8L503.7 110.9L501.7 111.0L499.7 111.0L497.7 111.1L495.7 111.2L493.7 111.3L491.7 111.4L489.6 111.5L487.6 111.6L485.6 111.7L483.6 111.8L481.6 111.9L479.6 111.9L477.6 112.0L475.6 112.1L473.6 112.2L471.5 112.3L469.5 112.4L467.5 112.5L465.5 112.6L463.5 112.7L461.5 112.8L459.5 112.9L457.5 113.0L455.5 113.1L453.5 113.2L451.4 113.3L449.4 113.4L447.4 113.5L445.4 113.6L443.4 113.7L441.4 113.8L439.4 113.9L437.4 114.0L435.4 114.2L433.4 114.3L431.4 114.4L429.3 114.5L427.3 114.7L425.3 114.8L423.3 115.0L421.3 115.1L419.3 115.3L417.3 115.4L415.3 115.6L413.3 115.8L411.3 115.9L409.3 116.1L407.3 116.3L405.3 116.5L403.3 116.7L401.3 116.9L399.3 117.1L397.3 117.4L395.3 117.6L393.3 117.9L391.3 118.1L389.3 118.4L387.3 118.7L385.3 119.1L383.3 119.4L381.3 119.7L379.4 120.1L377.4 120.5L375.4 120.9L373.4 121.3L371.5 121.7L369.5 122.2L367.6 122.6L365.6 123.1L363.7 123.6L361.7 124.2L359.8 124.7L357.8 125.2L355.9 125.8L354.0 126.3L352.0 126.9L350.1 127.4L348.2 128.0L346.2 128.6L344.3 129.2L342.4 129.8L340.5 130.4L338.6 131.1L336.7 131.8L334.8 132.5L332.9 133.2L331.1 134.0L329.3 134.9L327.4 135.7L325.6 136.6L323.9 137.6L322.1 138.6L320.4 139.7L318.8 140.8L317.2 142.1L315.7 143.4L314.2 144.7L312.7 146.1L311.4 147.6L310.0 149.1L308.8 150.7L307.5 152.3L306.4 153.9L305.2 155.6L304.1 157.3L303.1 159.0L302.1 160.7L301.1 162.5L300.1 164.2L299.2 166.0L298.2 167.8L297.3 169.6L296.4 171.4L295.4 173.1L294.5 174.9L293.6 176.7L292.7 178.5L291.9 180.4L291.0 182.2L290.2 184.0L289.4 185.9L288.7 187.8L287.9 189.6L287.1 191.5L286.4 193.3L285.6 195.2L284.9 197.1L284.1 198.9L283.4 200.8L282.6 202.7L281.9 204.5L281.1 206.4L280.3 208.3L279.5 210.1L278.8 212.0L278.0 213.8L277.2 215.7L276.5 217.6L275.7 219.4L275.0 221.3L274.3 223.2L273.7 225.1L273.1 227.0L272.5 228.9L271.9 230.9L271.3 232.8L270.8 234.7L270.2 236.7L269.7 238.6L269.1 240.6L268.6 242.5L268.0 244.4L267.5 246.4L266.9 248.3L266.4 250.2L265.8 252.1L265.2 254.1L264.5 256.0L263.9 257.9L263.3 259.8L262.6 261.7L262.0 263.6L261.3 265.5L260.7 267.4L260.0 269.3L259.3 271.2L258.6 273.1L257.9 275.0L257.2 276.9L256.5 278.8L255.8 280.6L255.0 282.5L254.2 284.3L253.4 286.2L252.6 288.0L251.7 289.8L250.8 291.7L249.9 293.4L249.0 295.2L248.0 297.0L247.1 298.8L246.1 300.5L245.1 302.3L244.0 304.0L242.9 305.7L241.8 307.3L240.6 308.9L239.3 310.5L238.0 312.0L236.5 313.3L234.8 314.5L233.0 315.4L231.1 315.9L229.1 316.0L227.1 315.7L225.2 315.0L223.4 314.2L221.6 313.2L220.0 312.0L218.3 310.9L216.7 309.7L215.0 308.5L213.4 307.4L211.7 306.2L210.1 305.1L208.4 304.0L206.8 302.8L205.1 301.7L203.4 300.6L201.7 299.5L200.1 298.3L198.4 297.2L196.7 296.1L195.1 294.9L193.4 293.8L191.7 292.7L190.1 291.6L188.4 290.4L186.7 289.3L185.0 288.2L183.3 287.2L181.6 286.1L179.9 285.0L178.2 284.0L176.4 283.0L174.6 282.2L172.8 281.3L170.9 280.6L169.0 279.9L167.1 279.3L165.2 278.8L163.2 278.2L161.3 277.7L159.3 277.3L157.3 276.9L155.4 276.5L153.4 276.1L151.4 275.7L151.4 275.7L152.5 274.0L153.5 272.3L154.6 270.6L155.8 268.9L156.9 267.3L158.2 265.7L159.4 264.2L160.7 262.6L162.0 261.1L163.3 259.5L164.6 258.0L166.0 256.5L167.4 255.1L168.8 253.7L170.4 252.4L171.9 251.1L173.4 249.8L175.0 248.5L176.5 247.2L178.0 245.9L179.6 244.6L181.1 243.3L182.6 242.0L184.2 240.7L185.7 239.4L187.2 238.1L188.7 236.8L190.3 235.5L191.8 234.2L193.3 232.9L194.8 231.6L196.3 230.2L197.8 228.9L199.4 227.6L200.9 226.4L202.6 225.2L204.2 224.0L205.7 222.7L207.2 221.3L208.5 219.8L209.9 218.3L211.2 216.8L212.5 215.3L213.8 213.7L215.1 212.2L216.4 210.7L217.7 209.1L219.0 207.6L220.3 206.1L221.6 204.6L223.0 203.1L224.3 201.6L225.6 200.1L226.9 198.5L228.2 197.0L229.4 195.4L230.6 193.8L231.7 192.1L232.9 190.4L234.0 188.8L235.0 187.1L236.1 185.4L237.1 183.6L238.1 181.9L239.0 180.1L239.9 178.3L240.8 176.5L241.7 174.7L242.6 172.9L243.5 171.1L244.3 169.3L245.2 167.5L246.1 165.7L247.0 163.9L247.8 162.0L248.7 160.2L249.6 158.4L250.5 156.6L251.4 154.8L252.2 153.0L253.1 151.2L254.0 149.4L254.9 147.6L255.7 145.8L256.6 144.0L257.4 142.1L258.3 140.3L259.1 138.5L259.9 136.6L260.7 134.8L261.6 133.0L262.4 131.1L263.2 129.3L264.0 127.5L264.8 125.6L265.6 123.8L266.4 121.9L267.2 120.1L268.0 118.3L268.8 116.4L269.6 114.6L270.4 112.7L271.3 110.9L272.1 109.1L272.9 107.2L273.7 105.4L274.5 103.5L275.3 101.7L276.1 99.9L277.0 98.1L277.9 96.3L278.8 94.5L279.7 92.7L280.7 90.9L281.6 89.1L282.6 87.4L283.5 85.6L284.6 83.9L285.6 82.2L286.7 80.5L287.8 78.8L288.9 77.2L290.1 75.5L291.3 73.9L292.5 72.3L293.7 70.7L295.0 69.1L296.3 67.6L297.8 66.2L299.3 64.9L300.8 63.7L302.5 62.6L304.3 61.7L306.2 61.0L308.2 60.5L310.1 60.2L312.1 60.0L314.1 60.1L316.1 60.3L318.1 60.8L320.0 61.6L321.8 62.4L323.6 63.3L325.4 64.1L327.2 65.0L329.1 65.8L330.9 66.6L332.8 67.3L334.6 68.1L336.5 68.9L338.3 69.7L340.2 70.4L342.0 71.2L343.9 72.0L345.8 72.7L347.6 73.5L349.5 74.3L351.4 75.0L353.2 75.7L355.1 76.5L357.0 77.2L358.9 77.9L360.7 78.6L362.6 79.2L364.5 79.9L366.4 80.5L368.4 81.1L370.3 81.7L372.2 82.3L374.1 82.9L376.1 83.4L378.0 83.9L379.9 84.5L381.9 84.9L383.8 85.4L385.8 85.8L387.8 86.3L389.7 86.7L391.7 87.1L393.7 87.5L395.7 87.8L397.6 88.1L399.6 88.5L401.6 88.8L403.6 89.0L405.6 89.3L407.6 89.6L409.6 89.8L411.6 90.0L413.6 90.2L415.6 90.4L417.6 90.6L419.6 90.8L421.6 91.0L423.6 91.2L425.6 91.4L427.6 91.5L429.6 91.7L431.6 91.9L433.6 92.0L435.6 92.1L437.6 92.2L439.6 92.4L441.6 92.5L443.6 92.6L445.6 92.7L447.6 92.8L449.6 92.9L451.6 93.0L453.6 93.1L455.7 93.1L457.7 93.2L459.7 93.3L461.7 93.4L463.7 93.5L465.7 93.5L467.7 93.6L469.7 93.7L471.7 93.7L473.7 93.8L475.7 93.8L477.7 93.9L479.7 94.0L481.8 94.0L483.8 94.1L485.8 94.1L487.8 94.1L489.8 94.2L491.8 94.2L493.8 94.3L495.8 94.3L497.8 94.3L499.8 94.3L501.8 94.4L503.9 94.4L505.9 94.4L507.9 94.4L509.9 94.4L511.9 94.4L513.9 94.5L515.9 94.5L517.9 94.5L519.9 94.5L521.9 94.5L523.9 94.4L526.0 94.4L528.0 94.4L530.0 94.4L532.0 94.4L534.0 94.4L536.0 94.4L538.0 94.3L540.0 94.3L542.0 94.3L544.0 94.3L546.0 94.2L548.1 94.2L550.1 94.2L552.1 94.2L554.1 94.1L556.1 94.1L558.1 94.1L560.1 94.0L562.1 94.0L564.1 94.0L566.1 93.9L568.1 93.9L570.1 93.9L572.2 93.8L574.2 93.8L576.2 93.8L578.2 93.7L580.2 93.7L582.2 93.7L584.2 93.6L586.2 93.6L588.2 93.6L590.2 93.6L592.2 93.5L594.3 93.5L596.3 93.5L598.3 93.4L600.3 93.4L602.3 93.4L604.3 93.3L606.3 93.3L608.3 93.3L610.3 93.2L612.3 93.2L614.3 93.2L616.4 93.2L618.4 93.1L620.4 93.1L622.4 93.1L624.4 93.0L626.4 93.0L628.4 93.0L630.4 92.9L632.4 92.9L634.4 92.9L636.4 92.8L638.4 92.8L640.5 92.8L642.5 92.7L644.5 92.7L646.5 92.7L648.5 92.6L650.5 92.6Z" stroke="#ff1a40"/>
<path d="M650.5 104.7L648.5 104.8L646.5 104.9L644.5 105.0L642.5 105.1L640.5 105.2L638.5 105.4L636.5 105.5L634.5 105.6L632.5 105.7L630.5 105.8L628.5 105.9L626.5 106.0L624.4 106.1L622.4 106.2L620.4 106.3L618.4 106.4L616.4 106.5L614.4 106.6L612.4 106.7L610.4 106.8L608.4 106.9L606.4 107.0L604.4 107.1L602.4 107.2L600.4 107.3L598.4 107.4L596.4 107.5L594.4 107.6L592.4 107.7L590.4 107.8L588.4 107.9L586.4 108.0L584.4 108.1L582.4 108.2L580.4 108.3L578.3 108.4L576.3 108.5L574.3 108.6L572.3 108.7L570.3 108.8L568.3 108.9L566.3 109.0L564.3 109.1L562.3 109.2L560.3 109.3L558.3 109.3L556.3 109.4L554.3 109.5L552.3 109.6L550.3 109.7L548.3 109.8L546.3 109.9L544.3 110.0L542.3 110.0L540.3 110.1L538.3 110.2L536.2 110.3L534.2 110.4L532.2 110.4L530.2 110.5L528.2 110.6L526.2 110.7L524.2 110.7L522.2 110.8L520.2 110.9L518.2 111.0L516.2 111.1L514.2 111.1L512.2 111.2L510.2 111.3L508.2 111.4L506.2 111.5L504.2 111.6L502.2 111.7L500.2 111.8L498.2 111.8L496.1 111.9L494.1 112.0L492.1 112.1L490.1 112.2L488.1 112.3L486.1 112.4L484.1 112.5L482.1 112.6L480.1 112.7L478.1 112.8L476.1 112.9L474.1 113.0L472.1 113.1L470.1 113.2L468.1 113.3L466.1 113.4L464.1 113.5L462.1 113.6L460.1 113.7L458.1 113.8L456.1 113.9L454.1 114.0L452.1 114.2L450.0 114.3L448.0 114.4L446.0 114.5L444.0 114.6L442.0 114.7L440.0 114.8L438.0 115.0L436.0 115.1L434.0 115.2L432.0 115.4L430.0 115.5L428.0 115.7L426.0 115.8L424.0 116.0L422.0 116.1L420.0 116.3L418.0 116.5L416.0 116.6L414.0 116.8L412.0 117.0L410.0 117.2L408.0 117.4L406.0 117.6L404.0 117.9L402.0 118.1L400.1 118.3L398.1 118.6L396.1 118.8L394.1 119.1L392.1 119.4L390.1 119.7L388.1 120.1L386.2 120.4L384.2 120.8L382.2 121.2L380.3 121.6L378.3 122.0L376.3 122.4L374.4 122.9L372.4 123.4L370.5 123.8L368.5 124.3L366.6 124.9L364.7 125.4L362.7 126.0L360.8 126.5L358.9 127.1L357.0 127.7L355.1 128.3L353.1 128.9L351.2 129.4L349.3 130.0L347.4 130.7L345.5 131.3L343.6 131.9L341.7 132.5L339.8 133.2L337.9 133.8L336.0 134.6L334.1 135.3L332.3 136.1L330.5 136.9L328.7 137.8L326.8 138.7L325.1 139.6L323.3 140.6L321.6 141.6L320.0 142.8L318.4 144.0L316.9 145.3L315.4 146.7L314.0 148.1L312.6 149.6L311.3 151.1L310.1 152.7L308.9 154.3L307.7 155.9L306.6 157.6L305.5 159.3L304.5 161.0L303.4 162.7L302.5 164.5L301.5 166.3L300.6 168.0L299.7 169.8L298.8 171.6L297.9 173.4L297.1 175.2L296.2 177.0L295.3 178.8L294.4 180.7L293.6 182.5L292.8 184.3L291.9 186.1L291.1 188.0L290.4 189.8L289.6 191.7L288.9 193.5L288.1 195.4L287.4 197.3L286.7 199.2L286.0 201.0L285.2 202.9L284.5 204.8L283.8 206.7L283.1 208.5L282.4 210.4L281.7 212.3L281.0 214.2L280.2 216.0L279.4 217.9L278.7 219.7L277.9 221.6L277.1 223.4L276.4 225.3L275.7 227.2L275.0 229.1L274.4 231.0L273.8 232.9L273.2 234.8L272.6 236.7L272.1 238.7L271.5 240.6L271.0 242.5L270.5 244.5L270.0 246.4L269.5 248.3L268.9 250.3L268.4 252.2L267.9 254.2L267.4 256.1L266.9 258.0L266.3 260.0L265.8 261.9L265.2 263.8L264.6 265.8L264.1 267.7L263.5 269.6L262.8 271.5L262.2 273.4L261.6 275.3L261.0 277.2L260.4 279.1L259.8 281.0L259.1 283.0L258.5 284.9L257.8 286.8L257.2 288.7L256.5 290.5L255.9 292.4L255.2 294.3L254.5 296.2L253.8 298.1L253.1 300.0L252.4 301.8L251.6 303.7L250.8 305.6L250.0 307.4L249.2 309.2L248.4 311.1L247.6 312.9L246.7 314.7L245.9 316.5L245.0 318.3L244.1 320.1L243.1 321.9L242.2 323.6L241.2 325.4L240.1 327.1L239.0 328.8L237.9 330.4L236.7 332.0L235.3 333.5L233.8 334.8L232.1 335.9L230.3 336.7L228.3 337.1L226.3 337.1L224.3 336.8L222.4 336.2L220.6 335.4L218.8 334.5L217.1 333.4L215.4 332.4L213.7 331.3L212.0 330.2L210.3 329.2L208.6 328.1L206.9 327.0L205.2 325.9L203.5 324.8L201.9 323.7L200.2 322.5L198.6 321.4L197.0 320.2L195.3 319.0L193.7 317.8L192.1 316.6L190.5 315.4L188.9 314.2L187.3 313.1L185.6 311.9L184.0 310.7L182.3 309.6L180.7 308.5L179.0 307.4L177.2 306.4L175.5 305.4L173.7 304.5L171.9 303.6L170.1 302.7L168.3 301.9L166.4 301.1L164.6 300.3L162.7 299.6L160.8 298.9L159.0 298.2L157.1 297.5L155.2 296.9L153.3 296.2L151.4 295.6L151.4 295.6L152.3 293.8L153.3 292.1L154.3 290.3L155.2 288.6L156.3 286.8L157.3 285.1L158.4 283.4L159.4 281.7L160.5 280.0L161.6 278.3L162.6 276.6L163.7 274.9L164.9 273.3L166.1 271.7L167.4 270.1L168.7 268.6L170.1 267.2L171.5 265.7L172.9 264.3L174.3 262.9L175.7 261.4L177.1 260.0L178.5 258.6L180.0 257.2L181.4 255.8L182.8 254.4L184.3 253.0L185.7 251.6L187.1 250.1L188.5 248.7L190.0 247.3L191.4 245.9L192.8 244.4L194.2 243.0L195.6 241.6L197.0 240.1L198.4 238.7L199.8 237.2L201.2 235.8L202.7 234.5L204.1 233.1L205.5 231.6L206.8 230.1L208.1 228.6L209.3 227.0L210.6 225.4L211.8 223.8L213.0 222.2L214.1 220.6L215.3 218.9L216.5 217.3L217.7 215.7L218.9 214.1L220.1 212.5L221.3 210.9L222.6 209.3L223.8 207.7L225.1 206.2L226.3 204.6L227.5 203.0L228.8 201.4L229.9 199.8L231.1 198.1L232.1 196.4L233.2 194.7L234.2 192.9L235.1 191.2L236.1 189.4L237.1 187.7L238.1 185.9L239.0 184.1L239.9 182.3L240.7 180.5L241.6 178.7L242.4 176.9L243.2 175.0L244.1 173.2L244.9 171.4L245.7 169.6L246.5 167.7L247.3 165.9L248.2 164.1L249.0 162.2L249.8 160.4L250.6 158.6L251.5 156.7L252.3 154.9L253.1 153.1L254.0 151.3L254.8 149.4L255.6 147.6L256.4 145.8L257.3 143.9L258.1 142.1L258.9 140.3L259.7 138.4L260.5 136.6L261.3 134.7L262.1 132.9L262.8 131.0L263.6 129.2L264.4 127.3L265.2 125.5L266.0 123.6L266.7 121.8L267.5 119.9L268.3 118.1L269.1 116.2L269.9 114.4L270.7 112.5L271.5 110.7L272.2 108.9L273.0 107.0L273.8 105.2L274.6 103.3L275.4 101.5L276.2 99.6L277.0 97.8L277.8 96.0L278.7 94.1L279.6 92.4L280.5 90.6L281.4 88.8L282.4 87.0L283.3 85.2L284.3 83.5L285.3 81.7L286.3 80.0L287.3 78.3L288.4 76.6L289.5 74.9L290.6 73.2L291.7 71.5L292.8 69.9L294.0 68.3L295.3 66.7L296.7 65.3L298.1 63.9L299.7 62.6L301.3 61.4L303.0 60.4L304.8 59.5L306.7 58.9L308.7 58.4L310.7 58.1L312.7 58.0L314.7 58.0L316.7 58.2L318.6 58.7L320.5 59.3L322.4 60.1L324.2 61.0L326.0 61.8L327.8 62.6L329.7 63.5L331.5 64.3L333.4 65.1L335.2 65.9L337.0 66.7L338.9 67.4L340.7 68.2L342.6 69.0L344.4 69.8L346.3 70.6L348.1 71.4L350.0 72.2L351.8 73.0L353.7 73.7L355.5 74.5L357.4 75.2L359.3 75.9L361.2 76.6L363.0 77.3L364.9 78.0L366.8 78.7L368.7 79.3L370.6 80.0L372.5 80.6L374.5 81.2L376.4 81.8L378.3 82.3L380.2 82.9L382.2 83.4L384.1 83.9L386.1 84.4L388.0 84.8L390.0 85.3L391.9 85.7L393.9 86.1L395.9 86.5L397.9 86.8L399.8 87.2L401.8 87.5L403.8 87.8L405.8 88.1L407.8 88.4L409.8 88.6L411.8 88.9L413.8 89.1L415.7 89.3L417.7 89.6L419.7 89.8L421.7 90.0L423.7 90.2L425.7 90.4L427.7 90.6L429.7 90.7L431.7 90.9L433.7 91.0L435.7 91.2L437.7 91.3L439.7 91.4L441.7 91.6L443.8 91.7L445.8 91.8L447.8 91.9L449.8 92.0L451.8 92.1L453.8 92.2L455.8 92.3L457.8 92.4L459.8 92.5L461.8 92.6L463.8 92.7L465.8 92.7L467.8 92.8L469.8 92.9L471.8 93.0L473.8 93.0L475.8 93.1L477.9 93.1L479.9 93.2L481.9 93.3L483.9 93.3L485.9 93.4L487.9 93.4L489.9 93.5L491.9 93.5L493.9 93.6L495.9 93.6L497.9 93.6L499.9 93.7L501.9 93.7L503.9 93.7L506.0 93.7L508.0 93.8L510.0 93.8L512.0 93.8L514.0 93.8L516.0 93.8L518.0 93.8L520.0 93.8L522.0 93.8L524.0 93.8L526.0 93.8L528.0 93.8L530.0 93.8L532.1 93.8L534.1 93.8L536.1 93.7L538.1 93.7L540.1 93.7L542.1 93.7L544.1 93.7L546.1 93.6L548.1 93.6L550.1 93.6L552.1 93.5L554.1 93.5L556.1 93.5L558.2 93.5L560.2 93.4L562.2 93.4L564.2 93.4L566.2 93.3L568.2 93.3L570.2 93.3L572.2 93.2L574.2 93.2L576.2 93.2L578.2 93.2L580.2 93.1L582.2 93.1L584.3 93.1L586.3 93.0L588.3 93.0L590.3 93.0L592.3 92.9L594.3 92.9L596.3 92.9L598.3 92.9L600.3 92.8L602.3 92.8L604.3 92.8L606.3 92.7L608.3 92.7L610.3 92.7L612.4 92.6L614.4 92.6L616.4 92.6L618.4 92.6L620.4 92.5L622.4 92.5L624.4 92.5L626.4 92.4L628.4 92.4L630.4 92.4L632.4 92.3L634.4 92.3L636.4 92.3L638.5 92.2L640.5 92.2L642.5 92.2L644.5 92.1L646.5 92.1L648.5 92.1L650.5 92.0Z" stroke="#008000"/>
<path d="M650.5 105.1L648.5 105.2L646.5 105.3L644.5 105.4L642.5 105.5L640.5 105.6L638.5 105.7L636.5 105.9L634.5 106.0L632.5 106.1L630.5 106.2L628.5 106.3L626.5 106.4L624.5 106.5L622.5 106.6L620.4 106.7L618.4 106.9L616.4 107.0L614.4 107.1L612.4 107.2L610.4 107.3L608.4 107.4L606.4 107.5L604.4 107.6L602.4 107.7L600.4 107.8L598.4 107.9L596.4 108.0L594.4 108.1L592.4 108.2L590.4 108.3L588.4 108.4L586.4 108.5L584.4 108.7L582.4 108.8L580.4 108.9L578.4 109.0L576.4 109.1L574.4 109.2L572.4 109.3L570.4 109.4L568.4 109.5L566.3 109.6L564.3 109.6L562.3 109.7L560.3 109.8L558.3 109.9L556.3 110.0L554.3 110.1L552.3 110.2L550.3 110.3L548.3 110.4L546.3 110.5L544.3 110.5L542.3 110.6L540.3 110.7L538.3 110.8L536.3 110.8L534.3 110.9L532.3 111.0L530.3 111.1L528.3 111.1L526.3 111.2L524.2 111.3L522.2 111.4L520.2 111.4L518.2 111.5L516.2 111.6L514.2 111.7L512.2 111.8L510.2 111.8L508.2 111.9L506.2 112.0L504.2 112.1L502.2 112.2L500.2 112.3L498.2 112.4L496.2 112.5L494.2 112.6L492.2 112.7L490.2 112.8L488.2 112.9L486.2 113.0L484.2 113.1L482.2 113.2L480.1 113.3L478.1 113.4L476.1 113.5L474.1 113.6L472.1 113.7L470.1 113.8L468.1 113.9L466.1 114.0L464.1 114.1L462.1 114.2L460.1 114.3L458.1 114.4L456.1 114.6L454.1 114.7L452.1 114.8L450.1 114.9L448.1 115.0L446.1 115.2L444.1 115.3L442.1 115.4L440.1 115.5L438.1 115.7L436.1 115.8L434.1 116.0L432.1 116.1L430.1 116.3L428.1 116.4L426.1 116.6L424.1 116.7L422.1 116.9L420.1 117.1L418.1 117.3L416.1 117.5L414.1 117.6L412.1 117.9L410.1 118.1L408.1 118.3L406.1 118.5L404.1 118.7L402.1 119.0L400.1 119.3L398.1 119.5L396.2 119.8L394.2 120.1L392.2 120.4L390.2 120.8L388.2 121.1L386.3 121.5L384.3 121.9L382.3 122.3L380.4 122.8L378.4 123.2L376.5 123.7L374.5 124.2L372.6 124.7L370.7 125.2L368.7 125.7L366.8 126.3L364.9 126.9L363.0 127.5L361.0 128.1L359.1 128.7L357.2 129.3L355.3 129.9L353.4 130.5L351.5 131.1L349.6 131.7L347.7 132.3L345.8 133.0L343.9 133.6L342.0 134.2L340.1 134.9L338.2 135.6L336.3 136.3L334.4 137.1L332.6 137.9L330.8 138.7L329.0 139.6L327.2 140.4L325.4 141.4L323.6 142.3L321.9 143.4L320.3 144.6L318.7 145.8L317.2 147.1L315.8 148.5L314.4 150.0L313.1 151.5L311.8 153.0L310.5 154.6L309.4 156.2L308.2 157.9L307.1 159.6L306.1 161.3L305.1 163.0L304.1 164.8L303.1 166.5L302.2 168.3L301.3 170.1L300.4 171.9L299.5 173.7L298.7 175.5L297.8 177.3L297.0 179.2L296.1 181.0L295.3 182.8L294.5 184.6L293.7 186.5L292.8 188.3L292.1 190.1L291.3 192.0L290.5 193.8L289.8 195.7L289.0 197.6L288.3 199.5L287.6 201.3L286.9 203.2L286.2 205.1L285.5 207.0L284.8 208.9L284.2 210.7L283.5 212.6L282.8 214.5L282.1 216.4L281.4 218.3L280.7 220.2L280.0 222.0L279.2 223.9L278.5 225.8L277.7 227.6L277.0 229.5L276.2 231.3L275.6 233.2L274.9 235.1L274.3 237.0L273.7 239.0L273.1 240.9L272.6 242.8L272.1 244.8L271.6 246.7L271.1 248.6L270.6 250.6L270.1 252.5L269.6 254.5L269.1 256.4L268.6 258.4L268.1 260.3L267.6 262.2L267.1 264.2L266.6 266.1L266.1 268.1L265.5 270.0L265.0 271.9L264.4 273.9L263.8 275.8L263.2 277.7L262.7 279.6L262.1 281.5L261.5 283.4L260.9 285.4L260.3 287.3L259.7 289.2L259.1 291.1L258.5 293.0L257.8 294.9L257.2 296.8L256.6 298.7L256.0 300.6L255.3 302.6L254.7 304.5L254.1 306.4L253.4 308.3L252.7 310.1L252.1 312.0L251.4 313.9L250.7 315.8L249.9 317.7L249.2 319.5L248.4 321.4L247.7 323.2L246.9 325.1L246.1 326.9L245.3 328.8L244.5 330.6L243.7 332.5L242.9 334.3L242.0 336.1L241.1 337.9L240.1 339.6L239.2 341.4L238.1 343.1L237.1 344.8L236.0 346.5L234.7 348.1L233.3 349.5L231.8 350.8L230.0 351.8L228.2 352.4L226.2 352.7L224.2 352.7L222.2 352.2L220.3 351.6L218.5 350.7L216.7 349.8L215.0 348.7L213.3 347.6L211.7 346.5L210.0 345.4L208.3 344.3L206.7 343.2L205.0 342.0L203.4 340.8L201.8 339.7L200.2 338.4L198.6 337.2L197.0 335.9L195.5 334.7L193.9 333.4L192.4 332.1L190.9 330.8L189.3 329.5L187.8 328.3L186.2 327.0L184.6 325.8L183.0 324.5L181.4 323.3L179.8 322.2L178.1 321.0L176.5 319.9L174.8 318.9L173.0 317.9L171.3 316.9L169.5 315.9L167.8 315.0L166.0 314.0L164.2 313.1L162.4 312.3L160.6 311.4L158.7 310.6L156.9 309.8L155.0 309.0L153.2 308.3L151.3 307.5L151.3 307.5L152.3 305.7L153.3 304.0L154.2 302.2L155.2 300.5L156.2 298.7L157.2 297.0L158.3 295.3L159.3 293.6L160.4 291.9L161.5 290.2L162.6 288.5L163.6 286.8L164.7 285.1L165.7 283.4L166.8 281.7L167.9 280.0L169.1 278.3L170.2 276.7L171.4 275.0L172.6 273.4L173.8 271.8L175.1 270.3L176.4 268.7L177.7 267.2L179.0 265.7L180.3 264.2L181.7 262.7L183.1 261.2L184.4 259.8L185.8 258.3L187.2 256.8L188.6 255.4L190.0 253.9L191.4 252.5L192.8 251.1L194.3 249.7L195.7 248.3L197.1 246.9L198.5 245.5L199.9 244.0L201.3 242.6L202.7 241.1L204.0 239.6L205.4 238.1L206.8 236.6L208.2 235.2L209.6 233.8L210.9 232.3L212.1 230.7L213.3 229.1L214.5 227.4L215.6 225.8L216.8 224.1L217.9 222.4L219.0 220.8L220.1 219.1L221.3 217.4L222.4 215.8L223.5 214.1L224.7 212.5L225.8 210.8L227.0 209.2L228.2 207.6L229.3 205.9L230.5 204.3L231.6 202.6L232.7 200.9L233.7 199.2L234.7 197.5L235.7 195.7L236.6 193.9L237.5 192.1L238.4 190.3L239.3 188.5L240.2 186.7L241.0 184.9L241.9 183.1L242.7 181.2L243.5 179.4L244.2 177.5L245.0 175.7L245.7 173.8L246.5 171.9L247.2 170.1L248.0 168.2L248.7 166.3L249.5 164.5L250.2 162.6L251.0 160.7L251.7 158.9L252.5 157.0L253.3 155.2L254.0 153.3L254.8 151.5L255.6 149.6L256.4 147.7L257.1 145.9L257.9 144.0L258.7 142.2L259.4 140.3L260.2 138.5L261.0 136.6L261.7 134.7L262.5 132.9L263.2 131.0L264.0 129.2L264.7 127.3L265.5 125.4L266.2 123.6L267.0 121.7L267.7 119.8L268.4 118.0L269.2 116.1L270.0 114.2L270.7 112.4L271.5 110.5L272.2 108.6L273.0 106.8L273.7 104.9L274.5 103.1L275.3 101.2L276.0 99.3L276.8 97.5L277.6 95.6L278.4 93.8L279.2 92.0L280.0 90.1L280.9 88.3L281.8 86.5L282.7 84.7L283.6 82.9L284.5 81.1L285.4 79.3L286.3 77.6L287.3 75.8L288.3 74.0L289.3 72.3L290.3 70.6L291.4 68.9L292.5 67.2L293.6 65.5L294.8 63.9L296.0 62.3L297.4 60.8L298.8 59.4L300.4 58.1L302.0 56.9L303.7 55.9L305.5 55.0L307.3 54.2L309.3 53.7L311.2 53.3L313.2 53.0L315.2 53.0L317.2 53.1L319.2 53.3L321.2 53.8L323.1 54.5L324.9 55.3L326.8 56.1L328.6 56.9L330.4 57.7L332.3 58.5L334.1 59.4L335.9 60.2L337.7 61.1L339.6 61.9L341.4 62.8L343.2 63.6L345.0 64.5L346.8 65.3L348.7 66.2L350.5 67.0L352.3 67.8L354.2 68.7L356.0 69.5L357.8 70.3L359.7 71.0L361.6 71.8L363.4 72.5L365.3 73.3L367.2 74.0L369.0 74.8L370.9 75.5L372.8 76.2L374.7 76.9L376.6 77.5L378.5 78.2L380.4 78.8L382.3 79.4L384.2 80.0L386.1 80.6L388.1 81.2L390.0 81.7L391.9 82.2L393.9 82.7L395.8 83.2L397.8 83.6L399.8 84.0L401.7 84.4L403.7 84.8L405.7 85.1L407.7 85.5L409.7 85.8L411.6 86.1L413.6 86.4L415.6 86.6L417.6 86.9L419.6 87.2L421.6 87.4L423.6 87.7L425.6 87.9L427.6 88.1L429.6 88.3L431.6 88.5L433.6 88.7L435.6 88.9L437.6 89.1L439.6 89.2L441.6 89.4L443.6 89.5L445.6 89.7L447.6 89.8L449.6 89.9L451.6 90.1L453.6 90.2L455.6 90.3L457.6 90.4L459.6 90.5L461.7 90.7L463.7 90.7L465.7 90.8L467.7 90.9L469.7 91.0L471.7 91.1L473.7 91.2L475.7 91.3L477.7 91.4L479.7 91.4L481.7 91.5L483.7 91.6L485.7 91.6L487.8 91.7L489.8 91.8L491.8 91.8L493.8 91.9L495.8 91.9L497.8 92.0L499.8 92.0L501.8 92.1L503.8 92.1L505.8 92.1L507.8 92.2L509.9 92.2L511.9 92.2L513.9 92.2L515.9 92.3L517.9 92.3L519.9 92.3L521.9 92.3L523.9 92.3L525.9 92.3L527.9 92.3L529.9 92.3L532.0 92.3L534.0 92.3L536.0 92.3L538.0 92.2L540.0 92.2L542.0 92.2L544.0 92.2L546.0 92.2L548.0 92.2L550.0 92.1L552.0 92.1L554.1 92.1L556.1 92.1L558.1 92.0L560.1 92.0L562.1 92.0L564.1 91.9L566.1 91.9L568.1 91.9L570.1 91.9L572.1 91.8L574.2 91.8L576.2 91.8L578.2 91.8L580.2 91.7L582.2 91.7L584.2 91.7L586.2 91.6L588.2 91.6L590.2 91.6L592.2 91.6L594.2 91.5L596.3 91.5L598.3 91.5L600.3 91.5L602.3 91.4L604.3 91.4L606.3 91.4L608.3 91.3L610.3 91.3L612.3 91.3L614.3 91.3L616.3 91.2L618.4 91.2L620.4 91.2L622.4 91.1L624.4 91.1L626.4 91.1L628.4 91.1L630.4 91.0L632.4 91.0L634.4 91.0L636.4 90.9L638.4 90.9L640.5 90.9L642.5 90.8L644.5 90.8L646.5 90.8L648.5 90.7L650.5 90.7Z" stroke="#0000a0"/>
<path d="M650.5 105.4L648.5 105.5L646.5 105.6L644.5 105.7L642.5 105.8L640.5 106.0L638.5 106.1L636.5 106.2L634.5 106.3L632.4 106.4L630.4 106.6L628.4 106.7L626.4 106.8L624.4 106.9L622.4 107.0L620.4 107.1L618.4 107.3L616.4 107.4L614.4 107.5L612.4 107.6L610.4 107.7L608.4 107.8L606.4 107.9L604.4 108.0L602.4 108.2L600.3 108.3L598.3 108.4L596.3 108.5L594.3 108.6L592.3 108.7L590.3 108.8L588.3 108.9L586.3 109.0L584.3 109.1L582.3 109.2L580.3 109.3L578.3 109.5L576.3 109.6L574.3 109.7L572.3 109.8L570.2 109.9L568.2 110.0L566.2 110.1L564.2 110.2L562.2 110.3L560.2 110.4L558.2 110.5L556.2 110.6L554.2 110.6L552.2 110.7L550.2 110.8L548.2 110.9L546.2 111.0L544.1 111.1L542.1 111.1L540.1 111.2L538.1 111.3L536.1 111.3L534.1 111.4L532.1 111.5L530.1 111.6L528.1 111.6L526.1 111.7L524.1 111.8L522.1 111.8L520.0 111.9L518.0 112.0L516.0 112.1L514.0 112.1L512.0 112.2L510.0 112.3L508.0 112.4L506.0 112.5L504.0 112.6L502.0 112.7L500.0 112.8L498.0 112.9L496.0 113.0L493.9 113.1L491.9 113.2L489.9 113.3L487.9 113.4L485.9 113.5L483.9 113.6L481.9 113.7L479.9 113.8L477.9 113.9L475.9 114.0L473.9 114.1L471.9 114.2L469.9 114.3L467.9 114.4L465.9 114.5L463.8 114.7L461.8 114.8L459.8 114.9L457.8 115.0L455.8 115.1L453.8 115.3L451.8 115.4L449.8 115.5L447.8 115.6L445.8 115.8L443.8 115.9L441.8 116.0L439.8 116.2L437.8 116.3L435.8 116.5L433.8 116.6L431.8 116.8L429.8 116.9L427.8 117.1L425.8 117.3L423.8 117.4L421.8 117.6L419.8 117.8L417.7 118.0L415.8 118.2L413.8 118.4L411.8 118.6L409.8 118.8L407.8 119.1L405.8 119.3L403.8 119.6L401.8 119.8L399.8 120.1L397.8 120.4L395.8 120.7L393.8 121.0L391.9 121.4L389.9 121.8L387.9 122.2L385.9 122.6L384.0 123.0L382.0 123.5L380.1 123.9L378.1 124.4L376.2 124.9L374.2 125.4L372.3 125.9L370.4 126.5L368.4 127.1L366.5 127.7L364.6 128.3L362.7 128.9L360.8 129.5L358.9 130.1L357.0 130.8L355.0 131.4L353.1 132.0L351.2 132.7L349.3 133.3L347.4 134.0L345.5 134.6L343.6 135.3L341.7 135.9L339.8 136.6L337.9 137.3L336.1 138.0L334.2 138.8L332.4 139.6L330.6 140.5L328.8 141.4L327.0 142.2L325.2 143.2L323.4 144.1L321.7 145.2L320.1 146.4L318.6 147.7L317.1 149.1L315.7 150.5L314.4 152.0L313.1 153.5L311.8 155.1L310.6 156.7L309.5 158.4L308.4 160.1L307.3 161.8L306.3 163.5L305.2 165.2L304.3 167.0L303.3 168.8L302.4 170.6L301.5 172.4L300.7 174.2L299.8 176.0L299.0 177.8L298.2 179.7L297.4 181.5L296.5 183.3L295.7 185.2L294.9 187.0L294.1 188.9L293.3 190.7L292.6 192.6L291.8 194.4L291.0 196.3L290.3 198.2L289.6 200.0L288.9 201.9L288.2 203.8L287.5 205.7L286.8 207.6L286.1 209.5L285.5 211.4L284.8 213.2L284.1 215.1L283.5 217.0L282.8 218.9L282.1 220.8L281.5 222.7L280.8 224.6L280.1 226.5L279.4 228.4L278.6 230.2L277.8 232.1L277.1 234.0L276.4 235.8L275.7 237.7L275.0 239.6L274.4 241.5L273.8 243.5L273.3 245.4L272.8 247.3L272.2 249.3L271.7 251.2L271.2 253.2L270.8 255.1L270.3 257.1L269.8 259.0L269.3 261.0L268.8 262.9L268.4 264.9L267.9 266.8L267.4 268.8L266.9 270.7L266.4 272.7L265.9 274.6L265.4 276.6L264.9 278.5L264.3 280.4L263.8 282.4L263.2 284.3L262.6 286.2L262.1 288.2L261.5 290.1L260.9 292.0L260.3 293.9L259.7 295.9L259.1 297.8L258.5 299.7L258.0 301.6L257.4 303.5L256.8 305.4L256.1 307.4L255.5 309.3L254.9 311.2L254.3 313.1L253.7 315.0L253.1 316.9L252.4 318.8L251.8 320.7L251.2 322.6L250.5 324.5L249.8 326.4L249.1 328.3L248.4 330.2L247.7 332.1L247.0 334.0L246.3 335.8L245.5 337.7L244.8 339.6L244.0 341.4L243.3 343.3L242.5 345.1L241.7 347.0L240.8 348.8L240.0 350.6L239.1 352.4L238.1 354.2L237.2 356.0L236.2 357.7L235.1 359.4L234.0 361.1L232.6 362.6L231.1 363.9L229.5 365.0L227.6 365.8L225.7 366.3L223.7 366.3L221.7 366.0L219.8 365.4L217.9 364.6L216.2 363.6L214.5 362.5L212.8 361.4L211.2 360.2L209.6 359.1L207.9 357.9L206.3 356.7L204.7 355.4L203.2 354.2L201.6 352.9L200.1 351.6L198.6 350.3L197.1 348.9L195.6 347.6L194.1 346.2L192.7 344.8L191.2 343.4L189.7 342.1L188.2 340.7L186.8 339.4L185.2 338.1L183.7 336.7L182.2 335.4L180.6 334.2L179.0 333.0L177.4 331.7L175.8 330.6L174.1 329.4L172.5 328.3L170.8 327.2L169.1 326.2L167.3 325.2L165.6 324.1L163.9 323.2L162.1 322.2L160.3 321.2L158.5 320.3L156.7 319.4L154.9 318.5L153.1 317.7L151.3 316.8L151.3 316.8L152.3 315.0L153.2 313.3L154.2 311.5L155.2 309.8L156.2 308.0L157.2 306.3L158.2 304.5L159.3 302.8L160.3 301.1L161.4 299.4L162.5 297.7L163.6 296.1L164.7 294.4L165.8 292.6L166.8 290.9L167.8 289.2L168.9 287.5L170.0 285.8L171.0 284.1L172.1 282.4L173.3 280.7L174.4 279.1L175.6 277.4L176.7 275.8L177.9 274.2L179.2 272.6L180.4 271.0L181.7 269.4L183.0 267.9L184.3 266.4L185.6 264.8L186.9 263.3L188.2 261.8L189.5 260.3L190.8 258.8L192.2 257.3L193.6 255.8L195.0 254.4L196.5 253.0L197.9 251.6L199.4 250.2L200.8 248.8L202.2 247.4L203.7 246.0L205.0 244.5L206.4 243.0L207.7 241.5L209.0 240.0L210.4 238.5L211.8 237.0L213.1 235.6L214.5 234.0L215.7 232.5L216.9 230.8L218.0 229.1L219.1 227.5L220.2 225.8L221.2 224.1L222.3 222.4L223.4 220.6L224.4 218.9L225.5 217.2L226.6 215.5L227.7 213.8L228.8 212.2L229.9 210.5L231.0 208.8L232.1 207.1L233.2 205.4L234.2 203.7L235.2 202.0L236.2 200.2L237.1 198.4L238.0 196.6L238.8 194.8L239.7 192.9L240.5 191.1L241.3 189.3L242.1 187.4L242.9 185.6L243.7 183.7L244.5 181.9L245.2 180.0L245.9 178.1L246.6 176.2L247.3 174.3L248.0 172.5L248.7 170.6L249.4 168.7L250.1 166.8L250.8 164.9L251.5 163.0L252.2 161.1L252.9 159.2L253.6 157.4L254.3 155.5L255.0 153.6L255.7 151.7L256.4 149.8L257.2 148.0L257.9 146.1L258.6 144.2L259.3 142.3L260.1 140.5L260.8 138.6L261.5 136.7L262.2 134.8L263.0 132.9L263.7 131.1L264.4 129.2L265.1 127.3L265.8 125.4L266.5 123.5L267.2 121.7L268.0 119.8L268.7 117.9L269.4 116.0L270.1 114.1L270.8 112.3L271.5 110.4L272.3 108.5L273.0 106.6L273.7 104.7L274.5 102.9L275.2 101.0L275.9 99.1L276.7 97.3L277.4 95.4L278.2 93.5L278.9 91.7L279.7 89.8L280.5 88.0L281.4 86.1L282.2 84.3L283.1 82.5L283.9 80.7L284.8 78.9L285.7 77.1L286.5 75.2L287.4 73.4L288.3 71.6L289.3 69.9L290.3 68.1L291.3 66.4L292.3 64.6L293.3 62.9L294.4 61.2L295.5 59.5L296.7 57.9L298.1 56.4L299.5 55.0L301.0 53.7L302.6 52.5L304.3 51.4L306.1 50.4L307.9 49.6L309.8 49.0L311.8 48.5L313.8 48.2L315.8 48.0L317.8 48.0L319.8 48.1L321.8 48.5L323.7 49.0L325.6 49.6L327.5 50.4L329.3 51.2L331.2 52.0L333.0 52.8L334.8 53.7L336.6 54.6L338.4 55.4L340.2 56.3L342.0 57.2L343.8 58.1L345.6 59.0L347.4 59.9L349.2 60.8L351.0 61.7L352.8 62.6L354.7 63.5L356.5 64.4L358.3 65.2L360.1 66.1L362.0 66.9L363.8 67.7L365.6 68.5L367.5 69.3L369.3 70.1L371.2 70.9L373.0 71.7L374.9 72.4L376.8 73.2L378.6 73.9L380.5 74.7L382.4 75.4L384.3 76.1L386.2 76.7L388.1 77.4L390.0 78.0L391.9 78.6L393.8 79.2L395.8 79.7L397.7 80.3L399.7 80.7L401.6 81.2L403.6 81.7L405.5 82.1L407.5 82.5L409.5 82.9L411.5 83.2L413.5 83.6L415.4 83.9L417.4 84.2L419.4 84.5L421.4 84.8L423.4 85.1L425.4 85.4L427.4 85.6L429.4 85.9L431.4 86.1L433.4 86.4L435.4 86.6L437.4 86.8L439.4 87.0L441.4 87.2L443.4 87.3L445.4 87.5L447.4 87.7L449.4 87.8L451.4 88.0L453.4 88.1L455.4 88.3L457.4 88.4L459.4 88.6L461.4 88.7L463.5 88.8L465.5 88.9L467.5 89.0L469.5 89.2L471.5 89.3L473.5 89.4L475.5 89.5L477.5 89.5L479.5 89.6L481.5 89.7L483.5 89.8L485.6 89.9L487.6 90.0L489.6 90.1L491.6 90.1L493.6 90.2L495.6 90.3L497.6 90.3L499.6 90.4L501.6 90.4L503.7 90.5L505.7 90.5L507.7 90.6L509.7 90.6L511.7 90.6L513.7 90.7L515.7 90.7L517.7 90.7L519.7 90.8L521.8 90.8L523.8 90.8L525.8 90.8L527.8 90.8L529.8 90.8L531.8 90.8L533.8 90.8L535.8 90.8L537.8 90.8L539.9 90.8L541.9 90.7L543.9 90.7L545.9 90.7L547.9 90.7L549.9 90.7L551.9 90.7L553.9 90.6L556.0 90.6L558.0 90.6L560.0 90.6L562.0 90.5L564.0 90.5L566.0 90.5L568.0 90.5L570.0 90.4L572.0 90.4L574.1 90.4L576.1 90.4L578.1 90.4L580.1 90.3L582.1 90.3L584.1 90.3L586.1 90.3L588.1 90.2L590.2 90.2L592.2 90.2L594.2 90.2L596.2 90.1L598.2 90.1L600.2 90.1L602.2 90.1L604.2 90.0L606.2 90.0L608.3 90.0L610.3 90.0L612.3 89.9L614.3 89.9L616.3 89.9L618.3 89.8L620.3 89.8L622.3 89.8L624.3 89.8L626.4 89.7L628.4 89.7L630.4 89.7L632.4 89.7L634.4 89.6L636.4 89.6L638.4 89.6L640.4 89.5L642.5 89.5L644.5 89.5L646.5 89.4L648.5 89.4L650.5 89.4Z" stroke="#f4512c"/>
<path d="M650.5 105.7L648.5 105.8L646.5 105.9L644.5 106.1L642.5 106.2L640.5 106.3L638.5 106.5L636.5 106.6L634.5 106.7L632.5 106.8L630.5 107.0L628.4 107.1L626.4 107.2L624.4 107.3L622.4 107.5L620.4 107.6L618.4 107.7L616.4 107.8L614.4 107.9L612.4 108.1L610.4 108.2L608.4 108.3L606.4 108.4L604.4 108.5L602.4 108.6L600.4 108.8L598.4 108.9L596.4 109.0L594.4 109.1L592.3 109.2L590.3 109.3L588.3 109.4L586.3 109.6L584.3 109.7L582.3 109.8L580.3 109.9L578.3 110.0L576.3 110.1L574.3 110.2L572.3 110.3L570.3 110.4L568.3 110.5L566.3 110.6L564.3 110.7L562.3 110.8L560.2 110.9L558.2 111.0L556.2 111.1L554.2 111.2L552.2 111.3L550.2 111.4L548.2 111.5L546.2 111.5L544.2 111.6L542.2 111.7L540.2 111.8L538.2 111.8L536.2 111.9L534.1 112.0L532.1 112.0L530.1 112.1L528.1 112.2L526.1 112.2L524.1 112.3L522.1 112.4L520.1 112.4L518.1 112.5L516.1 112.6L514.1 112.7L512.1 112.7L510.1 112.8L508.0 112.9L506.0 113.0L504.0 113.1L502.0 113.2L500.0 113.3L498.0 113.4L496.0 113.5L494.0 113.6L492.0 113.7L490.0 113.8L488.0 113.9L486.0 114.0L484.0 114.1L482.0 114.2L480.0 114.3L478.0 114.4L475.9 114.5L473.9 114.7L471.9 114.8L469.9 114.9L467.9 115.0L465.9 115.1L463.9 115.2L461.9 115.4L459.9 115.5L457.9 115.6L455.9 115.8L453.9 115.9L451.9 116.0L449.9 116.2L447.9 116.3L445.9 116.4L443.9 116.6L441.9 116.7L439.9 116.9L437.9 117.0L435.8 117.2L433.8 117.3L431.8 117.5L429.8 117.6L427.8 117.8L425.8 118.0L423.8 118.2L421.8 118.4L419.8 118.6L417.8 118.8L415.8 119.0L413.8 119.2L411.8 119.4L409.9 119.7L407.9 119.9L405.9 120.2L403.9 120.4L401.9 120.7L399.9 121.0L397.9 121.3L395.9 121.6L394.0 122.0L392.0 122.4L390.0 122.8L388.1 123.2L386.1 123.6L384.1 124.1L382.2 124.6L380.2 125.1L378.3 125.6L376.4 126.1L374.4 126.6L372.5 127.2L370.6 127.8L368.6 128.4L366.7 129.0L364.8 129.7L362.9 130.3L361.0 131.0L359.1 131.6L357.2 132.3L355.3 132.9L353.4 133.6L351.5 134.2L349.6 134.9L347.7 135.5L345.8 136.2L344.0 136.9L342.1 137.6L340.2 138.2L338.3 138.9L336.4 139.7L334.6 140.5L332.7 141.3L330.9 142.2L329.1 143.0L327.3 143.9L325.5 144.8L323.8 145.8L322.1 146.9L320.5 148.1L318.9 149.4L317.5 150.8L316.1 152.2L314.7 153.7L313.5 155.3L312.2 156.9L311.1 158.5L309.9 160.2L308.9 161.8L307.8 163.6L306.8 165.3L305.8 167.0L304.8 168.8L303.9 170.6L303.0 172.4L302.1 174.2L301.3 176.0L300.4 177.8L299.6 179.7L298.8 181.5L298.0 183.4L297.2 185.2L296.5 187.1L295.7 188.9L294.9 190.8L294.2 192.6L293.4 194.5L292.6 196.3L291.9 198.2L291.2 200.1L290.4 202.0L289.7 203.8L289.0 205.7L288.4 207.6L287.7 209.5L287.0 211.4L286.4 213.3L285.7 215.2L285.0 217.1L284.4 219.0L283.8 220.9L283.1 222.8L282.5 224.7L281.8 226.6L281.2 228.5L280.6 230.4L279.9 232.3L279.2 234.2L278.4 236.1L277.7 237.9L276.9 239.8L276.2 241.7L275.5 243.6L274.9 245.5L274.3 247.4L273.7 249.3L273.2 251.3L272.7 253.2L272.2 255.1L271.7 257.1L271.2 259.0L270.7 261.0L270.3 262.9L269.8 264.9L269.3 266.9L268.9 268.8L268.4 270.8L267.9 272.7L267.5 274.7L267.0 276.6L266.5 278.6L266.1 280.5L265.6 282.5L265.1 284.4L264.6 286.4L264.1 288.3L263.5 290.2L263.0 292.2L262.4 294.1L261.9 296.0L261.3 298.0L260.8 299.9L260.2 301.8L259.6 303.8L259.1 305.7L258.5 307.6L257.9 309.5L257.3 311.5L256.7 313.4L256.1 315.3L255.5 317.2L255.0 319.1L254.4 321.1L253.8 323.0L253.2 324.9L252.6 326.8L252.0 328.7L251.4 330.6L250.8 332.6L250.2 334.5L249.5 336.4L248.9 338.3L248.2 340.2L247.6 342.1L246.9 344.0L246.2 345.9L245.6 347.8L244.9 349.7L244.2 351.5L243.5 353.4L242.7 355.3L242.0 357.2L241.3 359.0L240.5 360.9L239.7 362.7L238.9 364.6L238.0 366.4L237.2 368.2L236.3 370.0L235.3 371.8L234.4 373.5L233.3 375.2L232.0 376.8L230.6 378.2L229.1 379.5L227.3 380.5L225.4 381.2L223.5 381.5L221.5 381.4L219.5 381.0L217.6 380.3L215.8 379.5L214.1 378.4L212.4 377.3L210.7 376.2L209.1 375.0L207.5 373.8L205.9 372.5L204.4 371.3L202.8 370.0L201.3 368.6L199.8 367.3L198.4 365.9L197.0 364.5L195.6 363.0L194.2 361.6L192.8 360.2L191.3 358.7L189.9 357.3L188.5 355.9L187.1 354.5L185.6 353.1L184.1 351.7L182.7 350.4L181.2 349.0L179.6 347.7L178.1 346.5L176.5 345.2L174.9 344.0L173.3 342.8L171.7 341.6L170.1 340.4L168.4 339.3L166.8 338.1L165.1 337.0L163.4 335.9L161.7 334.9L160.0 333.8L158.3 332.8L156.5 331.8L154.8 330.8L153.0 329.8L151.3 328.8L151.3 328.8L152.2 327.0L153.2 325.3L154.2 323.5L155.1 321.8L156.1 320.0L157.1 318.3L158.1 316.5L159.1 314.8L160.2 313.1L161.2 311.4L162.3 309.7L163.5 308.0L164.6 306.4L165.7 304.7L166.7 303.0L167.7 301.2L168.7 299.5L169.7 297.7L170.7 296.0L171.7 294.3L172.8 292.5L173.8 290.8L174.8 289.1L175.9 287.4L177.0 285.7L178.1 284.0L179.2 282.3L180.3 280.7L181.4 279.0L182.6 277.4L183.8 275.8L184.9 274.1L186.2 272.5L187.4 270.9L188.6 269.3L189.8 267.8L191.1 266.2L192.3 264.6L193.6 263.0L194.8 261.5L196.1 259.9L197.5 258.5L198.8 257.0L200.3 255.6L201.7 254.2L203.2 252.8L204.6 251.4L206.1 250.0L207.5 248.6L208.9 247.2L210.3 245.7L211.6 244.2L212.8 242.6L214.1 241.0L215.4 239.5L216.7 238.0L218.0 236.5L219.3 235.0L220.5 233.3L221.5 231.6L222.6 229.9L223.6 228.2L224.6 226.4L225.5 224.7L226.5 222.9L227.5 221.1L228.5 219.4L229.5 217.6L230.5 215.9L231.5 214.2L232.5 212.5L233.5 210.7L234.5 209.0L235.5 207.2L236.4 205.5L237.4 203.7L238.3 201.9L239.1 200.1L239.9 198.2L240.7 196.4L241.5 194.5L242.3 192.7L243.0 190.8L243.8 189.0L244.5 187.1L245.2 185.2L245.9 183.3L246.6 181.4L247.3 179.6L247.9 177.7L248.6 175.8L249.2 173.9L249.9 171.9L250.5 170.0L251.1 168.1L251.8 166.2L252.4 164.3L253.0 162.4L253.7 160.5L254.3 158.6L255.0 156.7L255.6 154.8L256.3 152.9L257.0 151.0L257.6 149.1L258.3 147.3L259.0 145.4L259.7 143.5L260.4 141.6L261.0 139.7L261.7 137.8L262.4 135.9L263.1 134.0L263.8 132.2L264.5 130.3L265.2 128.4L265.8 126.5L266.5 124.6L267.2 122.7L267.9 120.8L268.6 118.9L269.2 117.0L269.9 115.2L270.6 113.3L271.3 111.4L272.0 109.5L272.7 107.6L273.4 105.7L274.1 103.8L274.8 102.0L275.5 100.1L276.2 98.2L276.9 96.3L277.6 94.5L278.4 92.6L279.1 90.7L279.9 88.9L280.6 87.0L281.4 85.2L282.2 83.3L283.1 81.5L283.9 79.7L284.7 77.8L285.5 76.0L286.4 74.2L287.2 72.4L288.1 70.6L288.9 68.7L289.8 66.9L290.8 65.2L291.7 63.4L292.7 61.6L293.7 59.9L294.7 58.2L295.7 56.4L296.9 54.8L298.1 53.2L299.5 51.7L300.9 50.4L302.5 49.1L304.2 48.0L305.9 46.9L307.7 46.0L309.5 45.3L311.4 44.6L313.4 44.2L315.4 43.8L317.4 43.7L319.4 43.7L321.4 43.9L323.3 44.2L325.3 44.6L327.2 45.2L329.1 45.9L331.0 46.7L332.8 47.5L334.6 48.4L336.4 49.3L338.2 50.2L340.0 51.1L341.7 52.1L343.5 53.0L345.3 53.9L347.1 54.9L348.8 55.8L350.6 56.7L352.4 57.7L354.2 58.6L356.0 59.5L357.8 60.4L359.6 61.3L361.4 62.1L363.2 63.0L365.0 63.9L366.8 64.7L368.7 65.6L370.5 66.4L372.3 67.2L374.1 68.1L376.0 68.9L377.8 69.7L379.6 70.5L381.5 71.3L383.3 72.1L385.2 72.9L387.0 73.6L388.9 74.3L390.8 75.0L392.7 75.7L394.6 76.3L396.5 76.9L398.4 77.5L400.4 78.1L402.3 78.6L404.2 79.1L406.2 79.6L408.1 80.0L410.1 80.4L412.1 80.8L414.0 81.2L416.0 81.6L418.0 82.0L420.0 82.3L422.0 82.6L423.9 83.0L425.9 83.3L427.9 83.6L429.9 83.9L431.9 84.2L433.9 84.4L435.9 84.7L437.9 84.9L439.9 85.1L441.9 85.3L443.8 85.5L445.8 85.7L447.8 85.9L449.8 86.1L451.8 86.3L453.8 86.4L455.8 86.6L457.8 86.8L459.8 86.9L461.8 87.1L463.8 87.2L465.9 87.3L467.9 87.5L469.9 87.6L471.9 87.7L473.9 87.8L475.9 87.9L477.9 88.0L479.9 88.1L481.9 88.2L483.9 88.3L485.9 88.4L487.9 88.5L489.9 88.6L491.9 88.7L493.9 88.8L495.9 88.8L497.9 88.9L499.9 89.0L501.9 89.0L504.0 89.1L506.0 89.2L508.0 89.2L510.0 89.3L512.0 89.3L514.0 89.3L516.0 89.4L518.0 89.4L520.0 89.4L522.0 89.5L524.0 89.5L526.0 89.5L528.0 89.5L530.1 89.5L532.1 89.5L534.1 89.5L536.1 89.5L538.1 89.5L540.1 89.5L542.1 89.5L544.1 89.5L546.1 89.5L548.1 89.5L550.1 89.4L552.1 89.4L554.1 89.4L556.1 89.4L558.2 89.4L560.2 89.3L562.2 89.3L564.2 89.3L566.2 89.3L568.2 89.3L570.2 89.2L572.2 89.2L574.2 89.2L576.2 89.2L578.2 89.1L580.2 89.1L582.2 89.1L584.3 89.1L586.3 89.1L588.3 89.0L590.3 89.0L592.3 89.0L594.3 89.0L596.3 88.9L598.3 88.9L600.3 88.9L602.3 88.9L604.3 88.9L606.3 88.8L608.3 88.8L610.4 88.8L612.4 88.8L614.4 88.7L616.4 88.7L618.4 88.7L620.4 88.7L622.4 88.6L624.4 88.6L626.4 88.6L628.4 88.6L630.4 88.5L632.4 88.5L634.4 88.5L636.4 88.4L638.5 88.4L640.5 88.4L642.5 88.4L644.5 88.3L646.5 88.3L648.5 88.3L650.5 88.2Z" stroke="#8a0a96"/>
<path d="M650.5 106.0L648.5 106.1L646.5 106.3L644.5 106.4L642.5 106.5L640.5 106.7L638.5 106.8L636.5 107.0L634.5 107.1L632.5 107.2L630.5 107.3L628.5 107.5L626.5 107.6L624.5 107.7L622.5 107.9L620.5 108.0L618.5 108.1L616.5 108.3L614.4 108.4L612.4 108.5L610.4 108.6L608.4 108.8L606.4 108.9L604.4 109.0L602.4 109.1L600.4 109.2L598.4 109.4L596.4 109.5L594.4 109.6L592.4 109.7L590.4 109.8L588.4 110.0L586.4 110.1L584.4 110.2L582.4 110.3L580.4 110.4L578.4 110.5L576.4 110.6L574.4 110.7L572.4 110.9L570.4 111.0L568.4 111.1L566.4 111.2L564.3 111.3L562.3 111.4L560.3 111.5L558.3 111.6L556.3 111.7L554.3 111.8L552.3 111.9L550.3 111.9L548.3 112.0L546.3 112.1L544.3 112.2L542.3 112.2L540.3 112.3L538.3 112.4L536.3 112.4L534.3 112.5L532.3 112.5L530.3 112.6L528.2 112.7L526.2 112.7L524.2 112.8L522.2 112.9L520.2 112.9L518.2 113.0L516.2 113.1L514.2 113.2L512.2 113.2L510.2 113.3L508.2 113.4L506.2 113.5L504.2 113.6L502.2 113.7L500.2 113.8L498.2 113.9L496.2 114.0L494.2 114.1L492.1 114.2L490.1 114.3L488.1 114.4L486.1 114.5L484.1 114.6L482.1 114.7L480.1 114.8L478.1 115.0L476.1 115.1L474.1 115.2L472.1 115.3L470.1 115.4L468.1 115.6L466.1 115.7L464.1 115.8L462.1 115.9L460.1 116.1L458.1 116.2L456.1 116.3L454.1 116.5L452.1 116.6L450.1 116.8L448.1 116.9L446.1 117.0L444.1 117.2L442.1 117.3L440.1 117.5L438.1 117.7L436.1 117.8L434.1 118.0L432.1 118.1L430.1 118.3L428.1 118.5L426.1 118.7L424.1 118.9L422.1 119.1L420.1 119.3L418.1 119.5L416.1 119.7L414.1 119.9L412.1 120.2L410.1 120.4L408.1 120.7L406.1 120.9L404.1 121.2L402.1 121.5L400.2 121.8L398.2 122.1L396.2 122.5L394.2 122.9L392.3 123.3L390.3 123.7L388.4 124.2L386.4 124.6L384.5 125.1L382.5 125.6L380.6 126.1L378.6 126.7L376.7 127.2L374.8 127.8L372.9 128.4L371.0 129.0L369.0 129.6L367.1 130.3L365.2 130.9L363.4 131.6L361.5 132.3L359.6 132.9L357.7 133.6L355.8 134.3L353.9 135.0L352.0 135.6L350.1 136.3L348.2 137.0L346.3 137.7L344.5 138.4L342.6 139.1L340.7 139.8L338.8 140.5L336.9 141.2L335.1 142.0L333.3 142.8L331.4 143.7L329.6 144.5L327.9 145.4L326.1 146.4L324.3 147.3L322.6 148.4L321.0 149.6L319.5 150.9L318.0 152.3L316.6 153.7L315.3 155.2L314.0 156.8L312.8 158.4L311.6 160.0L310.5 161.7L309.4 163.3L308.4 165.1L307.4 166.8L306.4 168.6L305.5 170.3L304.5 172.1L303.6 173.9L302.8 175.7L301.9 177.5L301.1 179.4L300.3 181.2L299.5 183.0L298.7 184.9L297.9 186.7L297.2 188.6L296.5 190.5L295.7 192.3L295.0 194.2L294.2 196.1L293.5 197.9L292.8 199.8L292.0 201.7L291.3 203.6L290.6 205.4L289.9 207.3L289.2 209.2L288.6 211.1L287.9 213.0L287.3 214.9L286.6 216.8L286.0 218.7L285.3 220.6L284.7 222.5L284.1 224.4L283.5 226.3L282.8 228.2L282.2 230.1L281.6 232.1L281.0 234.0L280.4 235.9L279.7 237.8L279.0 239.6L278.3 241.5L277.5 243.4L276.8 245.3L276.1 247.1L275.4 249.0L274.8 250.9L274.2 252.9L273.7 254.8L273.2 256.7L272.7 258.7L272.2 260.6L271.7 262.6L271.2 264.5L270.8 266.5L270.3 268.4L269.9 270.4L269.4 272.3L268.9 274.3L268.5 276.2L268.0 278.2L267.6 280.2L267.1 282.1L266.7 284.1L266.2 286.0L265.7 288.0L265.3 289.9L264.8 291.9L264.3 293.8L263.8 295.8L263.3 297.7L262.8 299.6L262.3 301.6L261.7 303.5L261.2 305.4L260.6 307.4L260.1 309.3L259.5 311.2L259.0 313.2L258.4 315.1L257.9 317.0L257.3 318.9L256.7 320.9L256.1 322.8L255.6 324.7L255.0 326.6L254.4 328.6L253.8 330.5L253.3 332.4L252.7 334.3L252.1 336.3L251.5 338.2L251.0 340.1L250.4 342.0L249.8 343.9L249.2 345.9L248.6 347.8L248.0 349.7L247.4 351.6L246.8 353.5L246.2 355.4L245.5 357.3L244.9 359.2L244.2 361.1L243.6 363.0L242.9 364.9L242.2 366.8L241.6 368.7L240.9 370.6L240.1 372.5L239.4 374.3L238.6 376.2L237.9 378.0L237.1 379.9L236.2 381.7L235.4 383.5L234.5 385.3L233.6 387.1L232.6 388.9L231.4 390.5L230.1 392.0L228.7 393.4L227.0 394.5L225.2 395.4L223.3 396.0L221.3 396.1L219.3 396.0L217.4 395.5L215.5 394.7L213.7 393.8L212.0 392.8L210.3 391.6L208.7 390.5L207.1 389.2L205.5 388.0L204.0 386.7L202.5 385.4L201.0 384.0L199.6 382.6L198.2 381.2L196.8 379.7L195.4 378.3L194.1 376.8L192.7 375.3L191.4 373.8L190.0 372.3L188.6 370.9L187.2 369.4L185.8 368.0L184.4 366.6L183.0 365.1L181.6 363.7L180.1 362.4L178.6 361.0L177.1 359.7L175.6 358.4L174.1 357.1L172.5 355.8L170.9 354.6L169.4 353.3L167.8 352.1L166.2 350.9L164.5 349.7L162.9 348.5L161.3 347.4L159.6 346.2L158.0 345.1L156.3 344.0L154.6 342.9L152.9 341.8L151.2 340.7L151.2 340.7L152.2 338.9L153.1 337.1L154.1 335.4L155.1 333.6L156.1 331.9L157.0 330.1L158.0 328.4L159.1 326.6L160.1 324.9L161.1 323.2L162.2 321.5L163.3 319.8L164.4 318.1L165.6 316.5L166.7 314.8L167.7 313.1L168.8 311.4L169.8 309.6L170.8 307.9L171.8 306.1L172.8 304.4L173.7 302.6L174.7 300.9L175.7 299.1L176.7 297.4L177.7 295.6L178.7 293.9L179.8 292.2L180.8 290.4L181.8 288.7L182.9 287.0L184.0 285.3L185.1 283.6L186.2 281.9L187.3 280.3L188.4 278.6L189.6 277.0L190.8 275.3L191.9 273.7L193.1 272.1L194.3 270.4L195.5 268.8L196.7 267.2L197.9 265.6L199.1 264.0L200.3 262.4L201.6 260.8L202.9 259.3L204.3 257.9L205.7 256.4L207.2 255.0L208.6 253.6L210.1 252.2L211.5 250.8L212.9 249.4L214.3 248.0L215.7 246.5L217.0 245.0L218.3 243.4L219.6 241.9L220.9 240.4L222.2 238.8L223.4 237.2L224.5 235.6L225.6 233.8L226.5 232.1L227.4 230.3L228.4 228.5L229.3 226.7L230.2 224.9L231.0 223.1L231.9 221.3L232.8 219.5L233.7 217.7L234.6 215.8L235.5 214.0L236.4 212.2L237.3 210.4L238.1 208.6L239.0 206.8L239.8 205.0L240.7 203.1L241.5 201.3L242.2 199.4L242.9 197.6L243.7 195.7L244.4 193.8L245.1 191.9L245.7 190.0L246.4 188.1L247.1 186.2L247.7 184.3L248.4 182.4L249.0 180.5L249.6 178.6L250.2 176.7L250.8 174.7L251.4 172.8L251.9 170.9L252.5 169.0L253.1 167.0L253.7 165.1L254.3 163.2L254.8 161.3L255.4 159.3L256.0 157.4L256.7 155.5L257.3 153.6L257.9 151.7L258.5 149.8L259.2 147.9L259.8 146.0L260.4 144.0L261.1 142.1L261.7 140.2L262.3 138.3L263.0 136.4L263.6 134.5L264.3 132.6L264.9 130.7L265.6 128.8L266.2 126.9L266.9 125.0L267.5 123.1L268.2 121.2L268.8 119.3L269.5 117.4L270.1 115.5L270.8 113.6L271.4 111.7L272.1 109.8L272.7 107.9L273.4 106.0L274.1 104.1L274.7 102.2L275.4 100.3L276.1 98.4L276.8 96.5L277.5 94.6L278.2 92.7L278.9 90.8L279.6 89.0L280.4 87.1L281.1 85.2L281.9 83.4L282.7 81.5L283.5 79.7L284.3 77.8L285.1 76.0L285.9 74.1L286.7 72.3L287.5 70.5L288.3 68.6L289.1 66.8L289.9 64.9L290.8 63.1L291.7 61.3L292.6 59.5L293.5 57.7L294.5 56.0L295.5 54.2L296.5 52.5L297.5 50.8L298.7 49.1L300.0 47.6L301.5 46.2L303.0 44.9L304.7 43.8L306.4 42.7L308.2 41.8L310.0 41.0L311.9 40.3L313.8 39.7L315.8 39.3L317.8 39.1L319.8 39.0L321.8 39.0L323.8 39.3L325.8 39.6L327.7 40.1L329.7 40.7L331.6 41.3L333.4 42.1L335.3 42.9L337.1 43.8L338.8 44.8L340.5 45.8L342.3 46.9L344.0 47.9L345.7 48.9L347.5 49.9L349.3 50.8L351.0 51.8L352.8 52.7L354.6 53.7L356.4 54.6L358.2 55.5L359.9 56.4L361.7 57.4L363.5 58.3L365.3 59.2L367.1 60.1L368.9 61.0L370.7 61.9L372.5 62.8L374.3 63.7L376.1 64.6L377.9 65.4L379.7 66.3L381.6 67.2L383.4 68.0L385.2 68.9L387.0 69.7L388.9 70.5L390.7 71.3L392.6 72.1L394.5 72.8L396.4 73.5L398.3 74.2L400.2 74.8L402.1 75.4L404.0 76.0L405.9 76.5L407.9 77.1L409.8 77.6L411.8 78.0L413.7 78.5L415.7 78.9L417.7 79.3L419.7 79.7L421.6 80.1L423.6 80.5L425.6 80.8L427.6 81.2L429.5 81.5L431.5 81.8L433.5 82.1L435.5 82.4L437.5 82.7L439.5 82.9L441.5 83.2L443.5 83.4L445.5 83.6L447.5 83.9L449.5 84.1L451.5 84.3L453.5 84.5L455.5 84.7L457.5 84.9L459.5 85.1L461.5 85.2L463.5 85.4L465.5 85.5L467.5 85.7L469.5 85.8L471.5 85.9L473.5 86.1L475.6 86.2L477.6 86.3L479.6 86.4L481.6 86.6L483.6 86.7L485.6 86.8L487.6 86.9L489.6 87.0L491.6 87.1L493.6 87.2L495.6 87.3L497.7 87.3L499.7 87.4L501.7 87.5L503.7 87.6L505.7 87.6L507.7 87.7L509.7 87.8L511.7 87.8L513.7 87.9L515.7 87.9L517.8 88.0L519.8 88.0L521.8 88.0L523.8 88.0L525.8 88.1L527.8 88.1L529.8 88.1L531.8 88.1L533.8 88.1L535.9 88.1L537.9 88.1L539.9 88.1L541.9 88.1L543.9 88.1L545.9 88.1L547.9 88.1L549.9 88.1L551.9 88.1L554.0 88.1L556.0 88.0L558.0 88.0L560.0 88.0L562.0 88.0L564.0 88.0L566.0 87.9L568.0 87.9L570.0 87.9L572.1 87.9L574.1 87.9L576.1 87.8L578.1 87.8L580.1 87.8L582.1 87.8L584.1 87.8L586.1 87.8L588.2 87.7L590.2 87.7L592.2 87.7L594.2 87.7L596.2 87.7L598.2 87.6L600.2 87.6L602.2 87.6L604.2 87.6L606.3 87.5L608.3 87.5L610.3 87.5L612.3 87.5L614.3 87.5L616.3 87.4L618.3 87.4L620.3 87.4L622.3 87.4L624.4 87.3L626.4 87.3L628.4 87.3L630.4 87.3L632.4 87.2L634.4 87.2L636.4 87.2L638.4 87.2L640.4 87.1L642.5 87.1L644.5 87.1L646.5 87.1L648.5 87.0L650.5 87.0Z" stroke="#000000"/>
</g>
<rect x="126.5" y="9" width="524.5" height="418" fill="none" stroke="#000" stroke-width="2.6"/>
<path d="M126.5 402.5H119.2M126.5 377.9H122.5M126.5 353.3H119.2M126.5 328.7H122.5M126.5 304.1H119.2M126.5 279.5H122.5M126.5 254.9H119.2M126.5 230.3H122.5M126.5 205.7H119.2M126.5 181.1H122.5M126.5 156.5H119.2M126.5 131.9H122.5M126.5 107.3H119.2M126.5 82.7H122.5M126.5 58.1H119.2M126.5 33.5H122.5M126.5 8.9H119.2M151.6 427V433.6M201.5 427V430.6M251.4 427V433.6M301.3 427V430.6M351.2 427V433.6M401.1 427V430.6M450.9 427V433.6M500.8 427V430.6M550.7 427V433.6M600.6 427V430.6M650.5 427V433.6" stroke="#000" stroke-width="2.1" fill="none"/>
<text class="t" text-anchor="end" transform="translate(116.6 14.5) scale(1 0.95)" style="font-size:21.1px">0.000010</text>
<text class="t" text-anchor="end" transform="translate(116.6 63.7) scale(1 0.95)" style="font-size:21.1px">0.000005</text>
<text class="t" text-anchor="end" transform="translate(116.6 112.9) scale(1 0.95)" style="font-size:21.1px">0.000000</text>
<text class="t" text-anchor="end" transform="translate(116.6 162.1) scale(1 0.95)" style="font-size:21.1px">-0.000005</text>
<text class="t" text-anchor="end" transform="translate(116.6 211.3) scale(1 0.95)" style="font-size:21.1px">-0.000010</text>
<text class="t" text-anchor="end" transform="translate(116.6 260.5) scale(1 0.95)" style="font-size:21.1px">-0.000015</text>
<text class="t" text-anchor="end" transform="translate(116.6 309.7) scale(1 0.95)" style="font-size:21.1px">-0.000020</text>
<text class="t" text-anchor="end" transform="translate(116.6 358.9) scale(1 0.95)" style="font-size:21.1px">-0.000025</text>
<text class="t" text-anchor="end" transform="translate(116.6 408.1) scale(1 0.95)" style="font-size:21.1px">-0.000030</text>
<text class="t" text-anchor="middle" transform="translate(151.1 452.5) scale(1 0.93)">-1.0</text>
<text class="t" text-anchor="middle" transform="translate(250.9 452.5) scale(1 0.93)">-0.8</text>
<text class="t" text-anchor="middle" transform="translate(350.7 452.5) scale(1 0.93)">-0.6</text>
<text class="t" text-anchor="middle" transform="translate(450.4 452.5) scale(1 0.93)">-0.4</text>
<text class="t" text-anchor="middle" transform="translate(550.2 452.5) scale(1 0.93)">-0.2</text>
<text class="t" text-anchor="middle" transform="translate(650.0 452.5) scale(1 0.93)">0.0</text>
<text class="t" text-anchor="middle" transform="translate(16.5 189) rotate(-90) scale(1 0.93)" style="font-size:20.3px">Current/mA</text>
<text class="t" transform="translate(339 487.2) scale(1 0.93)" style="font-size:19.6px">Potential/ V</text>
<text class="t" transform="translate(134.5 34.4) scale(1 0.93)" style="font-size:19.6px">Scan rate <tspan style="font-size:15.5px">(</tspan>mVs-1)</text>
<text class="t" text-anchor="middle" transform="translate(171 57.4) scale(1 0.93)" style="font-size:19.8px">140</text>
<text class="t" text-anchor="middle" transform="translate(170.5 182) scale(1 0.93)" style="font-size:19.8px">10</text>
<path d="M170.6 162V84" stroke="#000" stroke-width="2.4"/><path d="M170.6 68.2L176.6 86H164.6Z" fill="#000"/>
<rect x="372.5" y="193" width="223.8" height="180.5" fill="#fff" stroke="#000" stroke-width="1.3"/>
<path d="M372.5 207.7H369.3M372.5 222.6H370.7M372.5 237.5H369.3M372.5 252.4H370.7M372.5 267.3H369.3M372.5 282.2H370.7M372.5 297.1H369.3M372.5 312.0H370.7M372.5 326.9H369.3M372.5 341.8H370.7M372.5 356.7H369.3M372.5 192.8H370.7M401.1 373.5V376.7M422.6 373.5V375.3M444.0 373.5V376.7M465.5 373.5V375.3M486.9 373.5V376.7M508.4 373.5V375.3M529.8 373.5V376.7M551.2 373.5V375.3M572.7 373.5V376.7M594.1 373.5V375.3M379.7 373.5V375.3" stroke="#000" stroke-width="1.2" fill="none"/>
<text class="s" text-anchor="end" x="368.6" y="210.3">-0.5</text>
<text class="s" text-anchor="end" x="368.6" y="240.1">-1.0</text>
<text class="s" text-anchor="end" x="368.6" y="269.9">-1.5</text>
<text class="s" text-anchor="end" x="368.6" y="299.7">-2.0</text>
<text class="s" text-anchor="end" x="368.6" y="329.5">-2.5</text>
<text class="s" text-anchor="end" x="368.6" y="359.3">-3.0</text>
<text class="s" text-anchor="middle" x="401.1" y="383.6">4</text>
<text class="s" text-anchor="middle" x="444.0" y="383.6">6</text>
<text class="s" text-anchor="middle" x="486.9" y="383.6">8</text>
<text class="s" text-anchor="middle" x="529.8" y="383.6">10</text>
<text class="s" text-anchor="middle" x="572.7" y="383.6">12</text>
<circle cx="383.75" cy="244.25" r="2.5" fill="url(#ball)"/>
<circle cx="411.75" cy="251.25" r="2.5" fill="url(#ball)"/>
<circle cx="433.25" cy="257.75" r="2.5" fill="url(#ball)"/>
<circle cx="451.25" cy="265.50" r="2.5" fill="url(#ball)"/>
<circle cx="467.40" cy="272.75" r="2.5" fill="url(#ball)"/>
<circle cx="481.75" cy="281.90" r="2.5" fill="url(#ball)"/>
<circle cx="494.80" cy="287.70" r="2.5" fill="url(#ball)"/>
<circle cx="507.00" cy="296.50" r="2.5" fill="url(#ball)"/>
<circle cx="518.75" cy="303.75" r="2.5" fill="url(#ball)"/>
<circle cx="529.50" cy="317.50" r="2.5" fill="url(#ball)"/>
<circle cx="540.00" cy="326.75" r="2.5" fill="url(#ball)"/>
<circle cx="550.00" cy="335.00" r="2.5" fill="url(#ball)"/>
<circle cx="559.50" cy="343.75" r="2.5" fill="url(#ball)"/>
<circle cx="568.75" cy="353.00" r="2.5" fill="url(#ball)"/>
<path d="M383.75 229.5L569.5 341.75" stroke="#ff0000" stroke-width="1.5"/>
<text class="s" x="503" y="237.5" style="font-size:8.7px">R<tspan dy="-3.6" style="font-size:8px">2</tspan><tspan dy="3.6">=0.9511</tspan></text>
<text class="s" text-anchor="middle" transform="translate(349 278.4) rotate(-90)" style="font-size:9.2px;letter-spacing:0.25px">I<tspan dy="2.6" style="font-size:9px">pa</tspan><tspan dy="-2.6">10</tspan><tspan dy="-3.8" style="font-size:8px">-5</tspan><tspan dy="3.8"> A</tspan></text>
<text class="s" x="458.8" y="402.8" style="font-size:8px">V</text><text class="s" x="464.9" y="399.8" style="font-size:9px">1/2</text><text class="s" x="476.2" y="403.4" style="font-size:8.4px">(vs</text><text class="s" x="488.2" y="399.4" style="font-size:8px">-1</text><text class="s" x="494.4" y="403.4" style="font-size:8.4px">)</text><text class="s" x="498.1" y="399.8" style="font-size:9px">1/2</text>
</svg>
</body></html>
